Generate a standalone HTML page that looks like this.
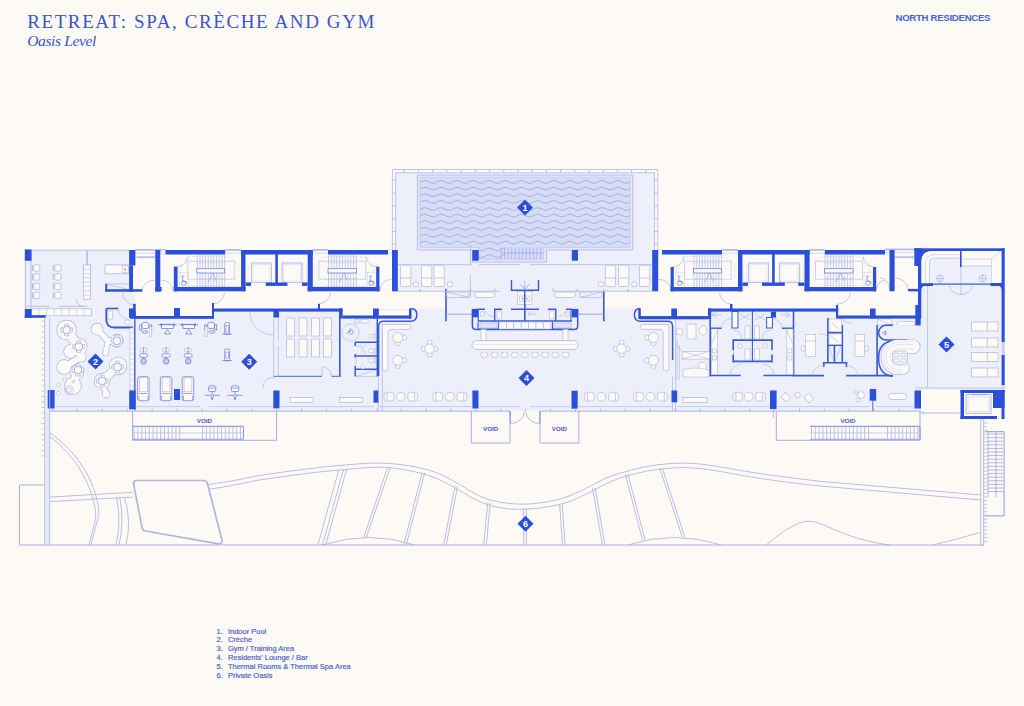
<!DOCTYPE html>
<html><head><meta charset="utf-8">
<style>
html,body{margin:0;padding:0;background:#fdfaf6;}
body{width:1024px;height:706px;overflow:hidden;position:relative;font-family:"Liberation Sans",sans-serif;}
svg{position:absolute;left:0;top:0;}
.w{fill:#2c4fd9;}
.lf{fill:#edf0fb;}
.cr{fill:#fdfaf6;}
.l{fill:none;stroke:#3a58d6;stroke-width:1.3;}
.t{fill:none;stroke:#a9b5e6;stroke-width:0.8;}
.g{fill:none;stroke:#b7c0e6;stroke-width:1;}
.fu{fill:#fdfaf6;stroke:#9eaae0;stroke-width:0.8;}
.ws{fill:#c9d0f0;}
.o{fill:none;stroke:#aab5e3;stroke-width:0.9;}
.dm{fill:#2c4fd9;}
.dt{fill:#fff;font:bold 9px "Liberation Sans",sans-serif;text-anchor:middle;}
.lg{fill:#4a62c8;stroke:#4a62c8;stroke-width:0.18px;font:7.5px "Liberation Sans",sans-serif;}
.vd{fill:#4a5ab8;font:bold 6.2px "Liberation Sans",sans-serif;text-anchor:middle;}
</style></head>
<body>
<svg width="1024" height="706" viewBox="0 0 1024 706">
<!-- ===== TITLES ===== -->
<text x="27.2" y="27.7" style="font:19px 'Liberation Serif',serif;fill:#3b55c6;letter-spacing:1.6px">RETREAT: SPA, CRÈCHE AND GYM</text>
<text x="27.2" y="46.3" style="font:italic 15.6px 'Liberation Serif',serif;fill:#3b55c6;letter-spacing:-0.4px">Oasis Level</text>
<text x="895.5" y="20.9" style="font:bold 9.6px 'Liberation Sans',sans-serif;fill:#4863cf;letter-spacing:-0.28px">NORTH RESIDENCES</text>

<!-- ===== LIGHT FILLS ===== -->
<g id="fills">
<rect class="lf" x="395.6" y="172.8" width="258.9" height="120"/>
<rect class="lf" x="25" y="250" width="104.5" height="66"/>
<rect class="lf" x="44.7" y="316" width="85.5" height="95"/><rect class="lf" x="129" y="291.5" width="6.4" height="17"/>
<rect class="lf" x="130" y="311" width="250" height="100"/>
<rect class="lf" x="378" y="291" width="300" height="120"/>
<rect class="lf" x="672" y="311" width="250" height="100"/>
<rect class="lf" x="921" y="251" width="81" height="140"/>
<!-- cream corridor / shafts within -->
<rect class="cr" x="135.4" y="291.3" width="310.6" height="17.2"/>
<rect class="cr" x="135.4" y="308" width="77.6" height="8"/>
<rect class="cr" x="342.6" y="311" width="70" height="5"/>
<rect class="cr" x="604" y="291.3" width="314" height="17.2"/>
<rect class="cr" x="640" y="308" width="68" height="8.5"/>
<rect class="cr" x="838" y="311" width="80" height="5"/>
<rect class="cr" x="921" y="390" width="40" height="23"/>
</g>

<!-- ===== POOL ===== -->
<g id="pool">
<path d="M392.4,250V169.5H657.8V250" fill="none" stroke="#b3bde6" stroke-width="0.9"/>
<path d="M395.6,250V172.8H654.5V250" fill="none" stroke="#b3bde6" stroke-width="0.9"/>
<path d="M404.4,169.5V172.8 M418.6,169.5V172.8 M432.8,169.5V172.8 M447.0,169.5V172.8 M461.2,169.5V172.8 M475.4,169.5V172.8 M489.6,169.5V172.8 M503.8,169.5V172.8 M518.0,169.5V172.8 M532.2,169.5V172.8 M546.4,169.5V172.8 M560.6,169.5V172.8 M574.8,169.5V172.8 M589.0,169.5V172.8 M603.2,169.5V172.8 M617.4,169.5V172.8 M631.6,169.5V172.8 M645.8,169.5V172.8 M392.4,180.3H395.6 M654.5,180.3H657.8 M392.4,193.1H395.6 M654.5,193.1H657.8 M392.4,205.9H395.6 M654.5,205.9H657.8 M392.4,218.7H395.6 M654.5,218.7H657.8 M392.4,231.5H395.6 M654.5,231.5H657.8 M392.4,244.3H395.6 M654.5,244.3H657.8" stroke="#a7b2e2" stroke-width="0.8"/>
<path d="M417.4,175H632.7V250H546.6V262.1H472.3V250H417.4Z" fill="#e4e8fa" stroke="#b0bae6" stroke-width="0.9"/>
<path d="M420.1,177.4H629.9V247.4H543.6V259.2H478.7V247.4H420.1Z" fill="#d7ddf6" stroke="#b4bde8" stroke-width="0.6"/>
<clipPath id="wc"><path d="M420.1,177.4H629.9V247.4H543.6V259.2H478.7V247.4H420.1Z"/></clipPath><path clip-path="url(#wc)" d="M416.95,183.25C419.88,183.25 422.07,180.55 425.00,180.55C427.93,180.55 430.12,183.25 433.05,183.25C435.98,183.25 438.17,180.55 441.10,180.55C444.03,180.55 446.22,183.25 449.15,183.25C452.08,183.25 454.27,180.55 457.20,180.55C460.13,180.55 462.32,183.25 465.25,183.25C468.18,183.25 470.37,180.55 473.30,180.55C476.23,180.55 478.42,183.25 481.35,183.25C484.28,183.25 486.47,180.55 489.40,180.55C492.33,180.55 494.52,183.25 497.45,183.25C500.38,183.25 502.57,180.55 505.50,180.55C508.43,180.55 510.62,183.25 513.55,183.25C516.48,183.25 518.67,180.55 521.60,180.55C524.53,180.55 526.72,183.25 529.65,183.25C532.58,183.25 534.77,180.55 537.70,180.55C540.63,180.55 542.82,183.25 545.75,183.25C548.68,183.25 550.87,180.55 553.80,180.55C556.73,180.55 558.92,183.25 561.85,183.25C564.78,183.25 566.97,180.55 569.90,180.55C572.83,180.55 575.02,183.25 577.95,183.25C580.88,183.25 583.07,180.55 586.00,180.55C588.93,180.55 591.12,183.25 594.05,183.25C596.98,183.25 599.17,180.55 602.10,180.55C605.03,180.55 607.22,183.25 610.15,183.25C613.08,183.25 615.27,180.55 618.20,180.55C621.13,180.55 623.32,183.25 626.25,183.25C629.18,183.25 631.37,180.55 634.30,180.55 M416.95,189.95C419.88,189.95 422.07,187.25 425.00,187.25C427.93,187.25 430.12,189.95 433.05,189.95C435.98,189.95 438.17,187.25 441.10,187.25C444.03,187.25 446.22,189.95 449.15,189.95C452.08,189.95 454.27,187.25 457.20,187.25C460.13,187.25 462.32,189.95 465.25,189.95C468.18,189.95 470.37,187.25 473.30,187.25C476.23,187.25 478.42,189.95 481.35,189.95C484.28,189.95 486.47,187.25 489.40,187.25C492.33,187.25 494.52,189.95 497.45,189.95C500.38,189.95 502.57,187.25 505.50,187.25C508.43,187.25 510.62,189.95 513.55,189.95C516.48,189.95 518.67,187.25 521.60,187.25C524.53,187.25 526.72,189.95 529.65,189.95C532.58,189.95 534.77,187.25 537.70,187.25C540.63,187.25 542.82,189.95 545.75,189.95C548.68,189.95 550.87,187.25 553.80,187.25C556.73,187.25 558.92,189.95 561.85,189.95C564.78,189.95 566.97,187.25 569.90,187.25C572.83,187.25 575.02,189.95 577.95,189.95C580.88,189.95 583.07,187.25 586.00,187.25C588.93,187.25 591.12,189.95 594.05,189.95C596.98,189.95 599.17,187.25 602.10,187.25C605.03,187.25 607.22,189.95 610.15,189.95C613.08,189.95 615.27,187.25 618.20,187.25C621.13,187.25 623.32,189.95 626.25,189.95C629.18,189.95 631.37,187.25 634.30,187.25 M416.95,196.55C419.88,196.55 422.07,193.85 425.00,193.85C427.93,193.85 430.12,196.55 433.05,196.55C435.98,196.55 438.17,193.85 441.10,193.85C444.03,193.85 446.22,196.55 449.15,196.55C452.08,196.55 454.27,193.85 457.20,193.85C460.13,193.85 462.32,196.55 465.25,196.55C468.18,196.55 470.37,193.85 473.30,193.85C476.23,193.85 478.42,196.55 481.35,196.55C484.28,196.55 486.47,193.85 489.40,193.85C492.33,193.85 494.52,196.55 497.45,196.55C500.38,196.55 502.57,193.85 505.50,193.85C508.43,193.85 510.62,196.55 513.55,196.55C516.48,196.55 518.67,193.85 521.60,193.85C524.53,193.85 526.72,196.55 529.65,196.55C532.58,196.55 534.77,193.85 537.70,193.85C540.63,193.85 542.82,196.55 545.75,196.55C548.68,196.55 550.87,193.85 553.80,193.85C556.73,193.85 558.92,196.55 561.85,196.55C564.78,196.55 566.97,193.85 569.90,193.85C572.83,193.85 575.02,196.55 577.95,196.55C580.88,196.55 583.07,193.85 586.00,193.85C588.93,193.85 591.12,196.55 594.05,196.55C596.98,196.55 599.17,193.85 602.10,193.85C605.03,193.85 607.22,196.55 610.15,196.55C613.08,196.55 615.27,193.85 618.20,193.85C621.13,193.85 623.32,196.55 626.25,196.55C629.18,196.55 631.37,193.85 634.30,193.85 M416.95,203.25C419.88,203.25 422.07,200.55 425.00,200.55C427.93,200.55 430.12,203.25 433.05,203.25C435.98,203.25 438.17,200.55 441.10,200.55C444.03,200.55 446.22,203.25 449.15,203.25C452.08,203.25 454.27,200.55 457.20,200.55C460.13,200.55 462.32,203.25 465.25,203.25C468.18,203.25 470.37,200.55 473.30,200.55C476.23,200.55 478.42,203.25 481.35,203.25C484.28,203.25 486.47,200.55 489.40,200.55C492.33,200.55 494.52,203.25 497.45,203.25C500.38,203.25 502.57,200.55 505.50,200.55C508.43,200.55 510.62,203.25 513.55,203.25C516.48,203.25 518.67,200.55 521.60,200.55C524.53,200.55 526.72,203.25 529.65,203.25C532.58,203.25 534.77,200.55 537.70,200.55C540.63,200.55 542.82,203.25 545.75,203.25C548.68,203.25 550.87,200.55 553.80,200.55C556.73,200.55 558.92,203.25 561.85,203.25C564.78,203.25 566.97,200.55 569.90,200.55C572.83,200.55 575.02,203.25 577.95,203.25C580.88,203.25 583.07,200.55 586.00,200.55C588.93,200.55 591.12,203.25 594.05,203.25C596.98,203.25 599.17,200.55 602.10,200.55C605.03,200.55 607.22,203.25 610.15,203.25C613.08,203.25 615.27,200.55 618.20,200.55C621.13,200.55 623.32,203.25 626.25,203.25C629.18,203.25 631.37,200.55 634.30,200.55 M416.95,210.35C419.88,210.35 422.07,207.65 425.00,207.65C427.93,207.65 430.12,210.35 433.05,210.35C435.98,210.35 438.17,207.65 441.10,207.65C444.03,207.65 446.22,210.35 449.15,210.35C452.08,210.35 454.27,207.65 457.20,207.65C460.13,207.65 462.32,210.35 465.25,210.35C468.18,210.35 470.37,207.65 473.30,207.65C476.23,207.65 478.42,210.35 481.35,210.35C484.28,210.35 486.47,207.65 489.40,207.65C492.33,207.65 494.52,210.35 497.45,210.35C500.38,210.35 502.57,207.65 505.50,207.65C508.43,207.65 510.62,210.35 513.55,210.35C516.48,210.35 518.67,207.65 521.60,207.65C524.53,207.65 526.72,210.35 529.65,210.35C532.58,210.35 534.77,207.65 537.70,207.65C540.63,207.65 542.82,210.35 545.75,210.35C548.68,210.35 550.87,207.65 553.80,207.65C556.73,207.65 558.92,210.35 561.85,210.35C564.78,210.35 566.97,207.65 569.90,207.65C572.83,207.65 575.02,210.35 577.95,210.35C580.88,210.35 583.07,207.65 586.00,207.65C588.93,207.65 591.12,210.35 594.05,210.35C596.98,210.35 599.17,207.65 602.10,207.65C605.03,207.65 607.22,210.35 610.15,210.35C613.08,210.35 615.27,207.65 618.20,207.65C621.13,207.65 623.32,210.35 626.25,210.35C629.18,210.35 631.37,207.65 634.30,207.65 M416.95,216.85C419.88,216.85 422.07,214.15 425.00,214.15C427.93,214.15 430.12,216.85 433.05,216.85C435.98,216.85 438.17,214.15 441.10,214.15C444.03,214.15 446.22,216.85 449.15,216.85C452.08,216.85 454.27,214.15 457.20,214.15C460.13,214.15 462.32,216.85 465.25,216.85C468.18,216.85 470.37,214.15 473.30,214.15C476.23,214.15 478.42,216.85 481.35,216.85C484.28,216.85 486.47,214.15 489.40,214.15C492.33,214.15 494.52,216.85 497.45,216.85C500.38,216.85 502.57,214.15 505.50,214.15C508.43,214.15 510.62,216.85 513.55,216.85C516.48,216.85 518.67,214.15 521.60,214.15C524.53,214.15 526.72,216.85 529.65,216.85C532.58,216.85 534.77,214.15 537.70,214.15C540.63,214.15 542.82,216.85 545.75,216.85C548.68,216.85 550.87,214.15 553.80,214.15C556.73,214.15 558.92,216.85 561.85,216.85C564.78,216.85 566.97,214.15 569.90,214.15C572.83,214.15 575.02,216.85 577.95,216.85C580.88,216.85 583.07,214.15 586.00,214.15C588.93,214.15 591.12,216.85 594.05,216.85C596.98,216.85 599.17,214.15 602.10,214.15C605.03,214.15 607.22,216.85 610.15,216.85C613.08,216.85 615.27,214.15 618.20,214.15C621.13,214.15 623.32,216.85 626.25,216.85C629.18,216.85 631.37,214.15 634.30,214.15 M416.95,223.45C419.88,223.45 422.07,220.75 425.00,220.75C427.93,220.75 430.12,223.45 433.05,223.45C435.98,223.45 438.17,220.75 441.10,220.75C444.03,220.75 446.22,223.45 449.15,223.45C452.08,223.45 454.27,220.75 457.20,220.75C460.13,220.75 462.32,223.45 465.25,223.45C468.18,223.45 470.37,220.75 473.30,220.75C476.23,220.75 478.42,223.45 481.35,223.45C484.28,223.45 486.47,220.75 489.40,220.75C492.33,220.75 494.52,223.45 497.45,223.45C500.38,223.45 502.57,220.75 505.50,220.75C508.43,220.75 510.62,223.45 513.55,223.45C516.48,223.45 518.67,220.75 521.60,220.75C524.53,220.75 526.72,223.45 529.65,223.45C532.58,223.45 534.77,220.75 537.70,220.75C540.63,220.75 542.82,223.45 545.75,223.45C548.68,223.45 550.87,220.75 553.80,220.75C556.73,220.75 558.92,223.45 561.85,223.45C564.78,223.45 566.97,220.75 569.90,220.75C572.83,220.75 575.02,223.45 577.95,223.45C580.88,223.45 583.07,220.75 586.00,220.75C588.93,220.75 591.12,223.45 594.05,223.45C596.98,223.45 599.17,220.75 602.10,220.75C605.03,220.75 607.22,223.45 610.15,223.45C613.08,223.45 615.27,220.75 618.20,220.75C621.13,220.75 623.32,223.45 626.25,223.45C629.18,223.45 631.37,220.75 634.30,220.75 M416.95,230.15C419.88,230.15 422.07,227.45 425.00,227.45C427.93,227.45 430.12,230.15 433.05,230.15C435.98,230.15 438.17,227.45 441.10,227.45C444.03,227.45 446.22,230.15 449.15,230.15C452.08,230.15 454.27,227.45 457.20,227.45C460.13,227.45 462.32,230.15 465.25,230.15C468.18,230.15 470.37,227.45 473.30,227.45C476.23,227.45 478.42,230.15 481.35,230.15C484.28,230.15 486.47,227.45 489.40,227.45C492.33,227.45 494.52,230.15 497.45,230.15C500.38,230.15 502.57,227.45 505.50,227.45C508.43,227.45 510.62,230.15 513.55,230.15C516.48,230.15 518.67,227.45 521.60,227.45C524.53,227.45 526.72,230.15 529.65,230.15C532.58,230.15 534.77,227.45 537.70,227.45C540.63,227.45 542.82,230.15 545.75,230.15C548.68,230.15 550.87,227.45 553.80,227.45C556.73,227.45 558.92,230.15 561.85,230.15C564.78,230.15 566.97,227.45 569.90,227.45C572.83,227.45 575.02,230.15 577.95,230.15C580.88,230.15 583.07,227.45 586.00,227.45C588.93,227.45 591.12,230.15 594.05,230.15C596.98,230.15 599.17,227.45 602.10,227.45C605.03,227.45 607.22,230.15 610.15,230.15C613.08,230.15 615.27,227.45 618.20,227.45C621.13,227.45 623.32,230.15 626.25,230.15C629.18,230.15 631.37,227.45 634.30,227.45 M416.95,237.25C419.88,237.25 422.07,234.55 425.00,234.55C427.93,234.55 430.12,237.25 433.05,237.25C435.98,237.25 438.17,234.55 441.10,234.55C444.03,234.55 446.22,237.25 449.15,237.25C452.08,237.25 454.27,234.55 457.20,234.55C460.13,234.55 462.32,237.25 465.25,237.25C468.18,237.25 470.37,234.55 473.30,234.55C476.23,234.55 478.42,237.25 481.35,237.25C484.28,237.25 486.47,234.55 489.40,234.55C492.33,234.55 494.52,237.25 497.45,237.25C500.38,237.25 502.57,234.55 505.50,234.55C508.43,234.55 510.62,237.25 513.55,237.25C516.48,237.25 518.67,234.55 521.60,234.55C524.53,234.55 526.72,237.25 529.65,237.25C532.58,237.25 534.77,234.55 537.70,234.55C540.63,234.55 542.82,237.25 545.75,237.25C548.68,237.25 550.87,234.55 553.80,234.55C556.73,234.55 558.92,237.25 561.85,237.25C564.78,237.25 566.97,234.55 569.90,234.55C572.83,234.55 575.02,237.25 577.95,237.25C580.88,237.25 583.07,234.55 586.00,234.55C588.93,234.55 591.12,237.25 594.05,237.25C596.98,237.25 599.17,234.55 602.10,234.55C605.03,234.55 607.22,237.25 610.15,237.25C613.08,237.25 615.27,234.55 618.20,234.55C621.13,234.55 623.32,237.25 626.25,237.25C629.18,237.25 631.37,234.55 634.30,234.55 M416.95,243.95C419.88,243.95 422.07,241.25 425.00,241.25C427.93,241.25 430.12,243.95 433.05,243.95C435.98,243.95 438.17,241.25 441.10,241.25C444.03,241.25 446.22,243.95 449.15,243.95C452.08,243.95 454.27,241.25 457.20,241.25C460.13,241.25 462.32,243.95 465.25,243.95C468.18,243.95 470.37,241.25 473.30,241.25C476.23,241.25 478.42,243.95 481.35,243.95C484.28,243.95 486.47,241.25 489.40,241.25C492.33,241.25 494.52,243.95 497.45,243.95C500.38,243.95 502.57,241.25 505.50,241.25C508.43,241.25 510.62,243.95 513.55,243.95C516.48,243.95 518.67,241.25 521.60,241.25C524.53,241.25 526.72,243.95 529.65,243.95C532.58,243.95 534.77,241.25 537.70,241.25C540.63,241.25 542.82,243.95 545.75,243.95C548.68,243.95 550.87,241.25 553.80,241.25C556.73,241.25 558.92,243.95 561.85,243.95C564.78,243.95 566.97,241.25 569.90,241.25C572.83,241.25 575.02,243.95 577.95,243.95C580.88,243.95 583.07,241.25 586.00,241.25C588.93,241.25 591.12,243.95 594.05,243.95C596.98,243.95 599.17,241.25 602.10,241.25C605.03,241.25 607.22,243.95 610.15,243.95C613.08,243.95 615.27,241.25 618.20,241.25C621.13,241.25 623.32,243.95 626.25,243.95C629.18,243.95 631.37,241.25 634.30,241.25 M473.30,248.05C476.23,248.05 478.42,250.75 481.35,250.75C484.28,250.75 486.47,248.05 489.40,248.05C492.33,248.05 494.52,250.75 497.45,250.75C500.38,250.75 502.57,248.05 505.50,248.05 M473.30,254.75C476.23,254.75 478.42,257.45 481.35,257.45C484.28,257.45 486.47,254.75 489.40,254.75C492.33,254.75 494.52,257.45 497.45,257.45C500.38,257.45 502.57,254.75 505.50,254.75" fill="none" stroke="#98a4dc" stroke-width="0.8"/>
<g stroke="#8d9de0" stroke-width="0.6" fill="none">
<path d="M501,247.4V259.2 M504.6,247.4V259.2 M508.2,247.4V259.2 M511.8,247.4V259.2 M515.4,247.4V259.2 M519,247.4V259.2 M522.6,247.4V259.2 M526.2,247.4V259.2 M529.8,247.4V259.2 M533.4,247.4V259.2 M537,247.4V259.2 M540.6,247.4V259.2 M501,253H543.6"/>
</g>
</g>


<!-- ===== CRECHE ===== -->
<g id="creche">
<rect x="33.7" y="264.9" width="6" height="6.3" rx="0.8" fill="#fdfaf6" stroke="#adb4de" stroke-width="0.7"/>
<path d="M32.6,264.9V271.2" stroke="#b9c2ea" stroke-width="1.2"/>
<rect x="33.7" y="273.8" width="6" height="6.3" rx="0.8" fill="#fdfaf6" stroke="#adb4de" stroke-width="0.7"/>
<path d="M32.6,273.8V280.1" stroke="#b9c2ea" stroke-width="1.2"/>
<rect x="33.7" y="283.3" width="6" height="6.3" rx="0.8" fill="#fdfaf6" stroke="#adb4de" stroke-width="0.7"/>
<path d="M32.6,283.3V289.6" stroke="#b9c2ea" stroke-width="1.2"/>
<rect x="33.7" y="292.3" width="6" height="6.3" rx="0.8" fill="#fdfaf6" stroke="#adb4de" stroke-width="0.7"/>
<path d="M32.6,292.3V298.6" stroke="#b9c2ea" stroke-width="1.2"/>
<rect x="54.8" y="264.9" width="6" height="6.3" rx="0.8" fill="#fdfaf6" stroke="#adb4de" stroke-width="0.7"/>
<path d="M53.300000000000004,264.9V271.2" stroke="#b9c2ea" stroke-width="1.2"/>
<rect x="54.8" y="273.8" width="6" height="6.3" rx="0.8" fill="#fdfaf6" stroke="#adb4de" stroke-width="0.7"/>
<path d="M53.300000000000004,273.8V280.1" stroke="#b9c2ea" stroke-width="1.2"/>
<rect x="54.8" y="283.3" width="6" height="6.3" rx="0.8" fill="#fdfaf6" stroke="#adb4de" stroke-width="0.7"/>
<path d="M53.300000000000004,283.3V289.6" stroke="#b9c2ea" stroke-width="1.2"/>
<rect x="54.8" y="292.3" width="6" height="6.3" rx="0.8" fill="#fdfaf6" stroke="#adb4de" stroke-width="0.7"/>
<path d="M53.300000000000004,292.3V298.6" stroke="#b9c2ea" stroke-width="1.2"/>
<rect x="83.7" y="264.9" width="6.8" height="34.4" fill="#fdfaf6" stroke="#adb4de" stroke-width="0.8"/>
<path d="M83.7,269.2H90.5 M83.7,273.5H90.5 M83.7,277.8H90.5 M83.7,282.1H90.5 M83.7,286.4H90.5 M83.7,290.7H90.5 M83.7,295.0H90.5" stroke="#c5cdef" stroke-width="0.9"/>
<path d="M87.1,250V264.9" stroke="#aab4e4" stroke-width="1.4"/>
<path d="M76.3,299.3 A7.4,7.4 0 0 0 83.7,306.6 M25,306.3H49.5 M58.4,306.3H87.7" stroke="#adb4de" stroke-width="0.8" fill="none"/>
<rect x="31.7" y="308.8" width="59.9" height="7" fill="#fdfaf6" stroke="#adb4de" stroke-width="0.7"/>
<path d="M39.2,308.8V315.8 M46.7,308.8V315.8 M54.2,308.8V315.8 M61.7,308.8V315.8 M69.2,308.8V315.8 M76.6,308.8V315.8 M84.1,308.8V315.8" stroke="#c5cdef" stroke-width="0.8"/>
<rect x="105" y="264.9" width="24" height="8.9" fill="#fdfaf6" stroke="#adb4de" stroke-width="0.8"/>
<rect x="122.2" y="265.8" width="6" height="7" fill="#fdfaf6" stroke="#adb4de" stroke-width="0.6"/><path d="M125,268V271" stroke="#5b70d2" stroke-width="0.8"/>
<path d="M107.2,284.5L129,289.6 M107.2,284H129" stroke="#adb4de" stroke-width="0.7" fill="none"/>
<path d="M122.5,292.2 A13,13 0 0 0 135.5,305" stroke="#adb4de" stroke-width="0.7" fill="none"/>
<path d="M106.3,308.5V319.5 Q106.3,327.5 114.3,327.5H133" stroke="#3a58d6" stroke-width="1.8" fill="none"/>
<path d="M106.3,308.5H118.3" stroke="#3a58d6" stroke-width="1.6" fill="none"/>
<rect x="108" y="311" width="4.5" height="8" fill="#fdfaf6" stroke="#adb4de" stroke-width="0.6"/>
<ellipse cx="127.5" cy="322.3" rx="3" ry="2.2" fill="#fdfaf6" stroke="#adb4de" stroke-width="0.6"/>
<path d="M118.3,308.5 A11,11 0 0 0 129.3,319.5" stroke="#adb4de" stroke-width="0.7" fill="none"/>
<rect x="130" y="328" width="4" height="62" fill="#fdfaf6" stroke="#adb4de" stroke-width="0.6"/>
<path d="M130,333.2H134 M130,338.4H134 M130,343.6H134 M130,348.8H134 M130,354.0H134 M130,359.2H134 M130,364.4H134 M130,369.6H134 M130,374.8H134 M130,380.0H134 M130,385.2H134" stroke="#c5cdef" stroke-width="0.6"/>
<path d="M135,311V410" stroke="#3a58d6" stroke-width="1.6"/>
<circle cx="66.6" cy="330" r="10.2" fill="#adb4de"/>
<circle cx="78.7" cy="346.6" r="8.899999999999999" fill="#adb4de"/>
<circle cx="70.5" cy="351.5" r="7.2" fill="#adb4de"/>
<path d="M66.6,330L78.7,346.6" stroke="#adb4de" stroke-width="10.4" stroke-linecap="round"/>
<path d="M78.7,346.6L70.5,351.5" stroke="#adb4de" stroke-width="8.4" stroke-linecap="round"/>
<circle cx="97" cy="329" r="6.2" fill="#adb4de"/>
<path d="M97,329L108,341" stroke="#adb4de" stroke-width="6.9" stroke-linecap="round"/>
<circle cx="116.9" cy="340.8" r="6.7" fill="#adb4de"/>
<path d="M108,341L116.9,340.8" stroke="#adb4de" stroke-width="7.4" stroke-linecap="round"/>
<path d="M108,341L105.5,353" stroke="#adb4de" stroke-width="5.9" stroke-linecap="round"/>
<circle cx="105.5" cy="353" r="3.3" fill="#adb4de"/>
<circle cx="81" cy="357" r="5.5" fill="#adb4de"/>
<circle cx="64" cy="367" r="7.7" fill="#adb4de"/>
<circle cx="77" cy="372" r="7.2" fill="#adb4de"/>
<path d="M81,357L66,366" stroke="#adb4de" stroke-width="7.4" stroke-linecap="round"/>
<circle cx="73" cy="386" r="8.7" fill="#adb4de"/>
<path d="M77,372L73,386" stroke="#adb4de" stroke-width="9.4" stroke-linecap="round"/>
<circle cx="118" cy="366" r="9.2" fill="#adb4de"/>
<circle cx="102.2" cy="381" r="8.2" fill="#adb4de"/>
<path d="M118,366L102.2,381" stroke="#adb4de" stroke-width="8.9" stroke-linecap="round"/>
<circle cx="106" cy="394" r="4.2" fill="#adb4de"/>
<path d="M102.2,381L106,394" stroke="#adb4de" stroke-width="5.4" stroke-linecap="round"/>
<circle cx="66.6" cy="330" r="9.5" fill="#fdfaf6"/>
<circle cx="78.7" cy="346.6" r="8.2" fill="#fdfaf6"/>
<circle cx="70.5" cy="351.5" r="6.5" fill="#fdfaf6"/>
<path d="M66.6,330L78.7,346.6" stroke="#fdfaf6" stroke-width="9" stroke-linecap="round"/>
<path d="M78.7,346.6L70.5,351.5" stroke="#fdfaf6" stroke-width="7" stroke-linecap="round"/>
<circle cx="97" cy="329" r="5.5" fill="#fdfaf6"/>
<path d="M97,329L108,341" stroke="#fdfaf6" stroke-width="5.5" stroke-linecap="round"/>
<circle cx="116.9" cy="340.8" r="6" fill="#fdfaf6"/>
<path d="M108,341L116.9,340.8" stroke="#fdfaf6" stroke-width="6" stroke-linecap="round"/>
<path d="M108,341L105.5,353" stroke="#fdfaf6" stroke-width="4.5" stroke-linecap="round"/>
<circle cx="105.5" cy="353" r="2.6" fill="#fdfaf6"/>
<circle cx="81" cy="357" r="4.8" fill="#fdfaf6"/>
<circle cx="64" cy="367" r="7" fill="#fdfaf6"/>
<circle cx="77" cy="372" r="6.5" fill="#fdfaf6"/>
<path d="M81,357L66,366" stroke="#fdfaf6" stroke-width="6" stroke-linecap="round"/>
<circle cx="73" cy="386" r="8" fill="#fdfaf6"/>
<path d="M77,372L73,386" stroke="#fdfaf6" stroke-width="8" stroke-linecap="round"/>
<circle cx="118" cy="366" r="8.5" fill="#fdfaf6"/>
<circle cx="102.2" cy="381" r="7.5" fill="#fdfaf6"/>
<path d="M118,366L102.2,381" stroke="#fdfaf6" stroke-width="7.5" stroke-linecap="round"/>
<circle cx="106" cy="394" r="3.5" fill="#fdfaf6"/>
<path d="M102.2,381L106,394" stroke="#fdfaf6" stroke-width="4" stroke-linecap="round"/>
<circle cx="64.6" cy="379.5" r="1.9" fill="#fdfaf6" stroke="#adb4de" stroke-width="0.6"/>
<circle cx="58.5" cy="385" r="1.9" fill="#fdfaf6" stroke="#adb4de" stroke-width="0.6"/>
<circle cx="58.5" cy="393" r="1.9" fill="#fdfaf6" stroke="#adb4de" stroke-width="0.6"/>
<circle cx="69" cy="390" r="2.3" fill="none" stroke="#adb4de" stroke-width="0.6"/><circle cx="69" cy="390" r="4.4" fill="none" stroke="#adb4de" stroke-width="0.6"/>
<path d="M72,381 L75,380.5 L73.5,383.5Z" fill="none" stroke="#adb4de" stroke-width="0.6"/>
<rect x="64.39999999999999" y="324.2" width="4.4" height="2.4" rx="0.6" fill="#fdfaf6" stroke="#8d9cde" stroke-width="0.6"/><rect x="64.39999999999999" y="333.40000000000003" width="4.4" height="2.4" rx="0.6" fill="#fdfaf6" stroke="#8d9cde" stroke-width="0.6"/><rect x="60.79999999999999" y="327.8" width="2.4" height="4.4" rx="0.6" fill="#fdfaf6" stroke="#8d9cde" stroke-width="0.6"/><rect x="69.99999999999999" y="327.8" width="2.4" height="4.4" rx="0.6" fill="#fdfaf6" stroke="#8d9cde" stroke-width="0.6"/><circle cx="66.6" cy="330" r="3.8" fill="#fdfaf6" stroke="#8d9cde" stroke-width="0.7"/>
<rect x="76.5" y="340.8" width="4.4" height="2.4" rx="0.6" fill="#fdfaf6" stroke="#8d9cde" stroke-width="0.6"/><rect x="76.5" y="350.00000000000006" width="4.4" height="2.4" rx="0.6" fill="#fdfaf6" stroke="#8d9cde" stroke-width="0.6"/><rect x="72.9" y="344.40000000000003" width="2.4" height="4.4" rx="0.6" fill="#fdfaf6" stroke="#8d9cde" stroke-width="0.6"/><rect x="82.1" y="344.40000000000003" width="2.4" height="4.4" rx="0.6" fill="#fdfaf6" stroke="#8d9cde" stroke-width="0.6"/><circle cx="78.7" cy="346.6" r="3.8" fill="#fdfaf6" stroke="#8d9cde" stroke-width="0.7"/>
<rect x="114.7" y="335.0" width="4.4" height="2.4" rx="0.6" fill="#fdfaf6" stroke="#8d9cde" stroke-width="0.6"/><rect x="114.7" y="344.20000000000005" width="4.4" height="2.4" rx="0.6" fill="#fdfaf6" stroke="#8d9cde" stroke-width="0.6"/><rect x="111.10000000000001" y="338.6" width="2.4" height="4.4" rx="0.6" fill="#fdfaf6" stroke="#8d9cde" stroke-width="0.6"/><rect x="120.3" y="338.6" width="2.4" height="4.4" rx="0.6" fill="#fdfaf6" stroke="#8d9cde" stroke-width="0.6"/><circle cx="116.9" cy="340.8" r="3.8" fill="#fdfaf6" stroke="#8d9cde" stroke-width="0.7"/>
<rect x="75.8" y="364.3" width="4.4" height="2.4" rx="0.6" fill="#fdfaf6" stroke="#8d9cde" stroke-width="0.6"/><rect x="75.8" y="373.50000000000006" width="4.4" height="2.4" rx="0.6" fill="#fdfaf6" stroke="#8d9cde" stroke-width="0.6"/><rect x="72.2" y="367.90000000000003" width="2.4" height="4.4" rx="0.6" fill="#fdfaf6" stroke="#8d9cde" stroke-width="0.6"/><rect x="81.39999999999999" y="367.90000000000003" width="2.4" height="4.4" rx="0.6" fill="#fdfaf6" stroke="#8d9cde" stroke-width="0.6"/><circle cx="78" cy="370.1" r="3.8" fill="#fdfaf6" stroke="#8d9cde" stroke-width="0.7"/>
<rect x="115.3" y="361.2" width="4.4" height="2.4" rx="0.6" fill="#fdfaf6" stroke="#8d9cde" stroke-width="0.6"/><rect x="115.3" y="370.40000000000003" width="4.4" height="2.4" rx="0.6" fill="#fdfaf6" stroke="#8d9cde" stroke-width="0.6"/><rect x="111.7" y="364.8" width="2.4" height="4.4" rx="0.6" fill="#fdfaf6" stroke="#8d9cde" stroke-width="0.6"/><rect x="120.89999999999999" y="364.8" width="2.4" height="4.4" rx="0.6" fill="#fdfaf6" stroke="#8d9cde" stroke-width="0.6"/><circle cx="117.5" cy="367" r="3.8" fill="#fdfaf6" stroke="#8d9cde" stroke-width="0.7"/>
<rect x="100.0" y="375.2" width="4.4" height="2.4" rx="0.6" fill="#fdfaf6" stroke="#8d9cde" stroke-width="0.6"/><rect x="100.0" y="384.40000000000003" width="4.4" height="2.4" rx="0.6" fill="#fdfaf6" stroke="#8d9cde" stroke-width="0.6"/><rect x="96.4" y="378.8" width="2.4" height="4.4" rx="0.6" fill="#fdfaf6" stroke="#8d9cde" stroke-width="0.6"/><rect x="105.6" y="378.8" width="2.4" height="4.4" rx="0.6" fill="#fdfaf6" stroke="#8d9cde" stroke-width="0.6"/><circle cx="102.2" cy="381" r="3.8" fill="#fdfaf6" stroke="#8d9cde" stroke-width="0.7"/>
</g>

<!-- ===== CORES ===== -->
<g id="cores">
<rect x="180.6" y="256.5" width="57.5" height="29" rx="13" fill="none" stroke="#c3cbee" stroke-width="0.7" stroke-dasharray="1.2,1.6"/><rect x="187.8" y="261.2" width="46.39999999999998" height="18" fill="none" stroke="#c0c8ec" stroke-width="0.8"/><path d="M197.3,254.6V286.8 M200.0,254.6V286.8 M202.8,254.6V286.8 M205.5,254.6V286.8 M208.3,254.6V286.8 M211.0,254.6V286.8 M213.7,254.6V286.8 M216.5,254.6V286.8 M219.2,254.6V286.8 M222.0,254.6V286.8 M224.7,254.6V286.8" stroke="#b6bfe7" stroke-width="0.8"/><path d="M197.3,263H224.7 M197.3,278.5H224.7" stroke="#c3cbee" stroke-width="0.5"/><rect x="196.8" y="268.7" width="27.899999999999977" height="4.3" fill="#fdfaf6" stroke="#6f83d8" stroke-width="0.8"/><path d="M213.0,273 L208.0,282 M213.0,273L216.0,281" stroke="#8e9de0" stroke-width="0.6" fill="none"/><g stroke="#6f83d8" stroke-width="0.7" fill="none"><circle cx="183.6" cy="283" r="2.2"/><path d="M182.6,277.5V281.5H186.1L187.1,284"/><circle cx="182.9" cy="276.5" r="0.7"/></g><rect x="179.6" y="272.5" width="9" height="13" fill="none" stroke="#c6cdee" stroke-width="0.5"/>
<rect x="315.8" y="256.5" width="57.39999999999998" height="29" rx="13" fill="none" stroke="#c3cbee" stroke-width="0.7" stroke-dasharray="1.2,1.6"/><rect x="319.0" y="261.2" width="46.80000000000001" height="18" fill="none" stroke="#c0c8ec" stroke-width="0.8"/><path d="M328.5,254.6V286.8 M331.3,254.6V286.8 M334.1,254.6V286.8 M336.8,254.6V286.8 M339.6,254.6V286.8 M342.4,254.6V286.8 M345.2,254.6V286.8 M348.0,254.6V286.8 M350.7,254.6V286.8 M353.5,254.6V286.8 M356.3,254.6V286.8" stroke="#b6bfe7" stroke-width="0.8"/><path d="M328.5,263H356.3 M328.5,278.5H356.3" stroke="#c3cbee" stroke-width="0.5"/><rect x="328.0" y="268.7" width="28.30000000000001" height="4.3" fill="#fdfaf6" stroke="#6f83d8" stroke-width="0.8"/><path d="M344.4,273 L339.4,282 M344.4,273L347.4,281" stroke="#8e9de0" stroke-width="0.6" fill="none"/><g stroke="#6f83d8" stroke-width="0.7" fill="none"><circle cx="371.2" cy="283" r="2.2"/><path d="M370.2,277.5V281.5H373.7L374.7,284"/><circle cx="370.5" cy="276.5" r="0.7"/></g><rect x="367.2" y="272.5" width="9" height="13" fill="none" stroke="#c6cdee" stroke-width="0.5"/>
<rect x="676.8" y="256.5" width="58.200000000000045" height="29" rx="13" fill="none" stroke="#c3cbee" stroke-width="0.7" stroke-dasharray="1.2,1.6"/><rect x="684.5" y="261.2" width="46.60000000000002" height="18" fill="none" stroke="#c0c8ec" stroke-width="0.8"/><path d="M694.0,254.6V286.8 M696.8,254.6V286.8 M699.5,254.6V286.8 M702.3,254.6V286.8 M705.0,254.6V286.8 M707.8,254.6V286.8 M710.6,254.6V286.8 M713.3,254.6V286.8 M716.1,254.6V286.8 M718.8,254.6V286.8 M721.6,254.6V286.8" stroke="#b6bfe7" stroke-width="0.8"/><path d="M694,263H721.6 M694,278.5H721.6" stroke="#c3cbee" stroke-width="0.5"/><rect x="693.5" y="268.7" width="28.100000000000023" height="4.3" fill="#fdfaf6" stroke="#6f83d8" stroke-width="0.8"/><path d="M709.8,273 L704.8,282 M709.8,273L712.8,281" stroke="#8e9de0" stroke-width="0.6" fill="none"/><g stroke="#6f83d8" stroke-width="0.7" fill="none"><circle cx="679.8" cy="283" r="2.2"/><path d="M678.8,277.5V281.5H682.3L683.3,284"/><circle cx="679.0999999999999" cy="276.5" r="0.7"/></g><rect x="675.8" y="272.5" width="9" height="13" fill="none" stroke="#c6cdee" stroke-width="0.5"/>
<rect x="812.6" y="256.5" width="57.39999999999998" height="29" rx="13" fill="none" stroke="#c3cbee" stroke-width="0.7" stroke-dasharray="1.2,1.6"/><rect x="815.5" y="261.2" width="47" height="18" fill="none" stroke="#c0c8ec" stroke-width="0.8"/><path d="M825.0,254.6V286.8 M827.8,254.6V286.8 M830.6,254.6V286.8 M833.4,254.6V286.8 M836.2,254.6V286.8 M839.0,254.6V286.8 M841.8,254.6V286.8 M844.6,254.6V286.8 M847.4,254.6V286.8 M850.2,254.6V286.8 M853.0,254.6V286.8" stroke="#b6bfe7" stroke-width="0.8"/><path d="M825,263H853 M825,278.5H853" stroke="#c3cbee" stroke-width="0.5"/><rect x="824.5" y="268.7" width="28.5" height="4.3" fill="#fdfaf6" stroke="#6f83d8" stroke-width="0.8"/><path d="M841.0,273 L836.0,282 M841.0,273L844.0,281" stroke="#8e9de0" stroke-width="0.6" fill="none"/><g stroke="#6f83d8" stroke-width="0.7" fill="none"><circle cx="868" cy="283" r="2.2"/><path d="M867,277.5V281.5H870.5L871.5,284"/><circle cx="867.3" cy="276.5" r="0.7"/></g><rect x="864" y="272.5" width="9" height="13" fill="none" stroke="#c6cdee" stroke-width="0.5"/>
<g fill="none" stroke="#adb4de" stroke-width="0.7">
<path d="M177.6,266.5A10,10 0 0 0 187.6,256.5 M376.2,266.5A10,10 0 0 1 366.2,256.5 M673.8,266.5A10,10 0 0 0 683.8,256.5 M873,266.5A10,10 0 0 1 863,256.5"/>
<path d="M142,291.3A13.4,11 0 0 1 155.4,280 M161.1,280A12,11 0 0 1 173,291.3"/>
<path d="M224.5,292.3A11.5,11.5 0 0 1 213,303.8 M330.4,292.6A12,11.2 0 0 1 318.4,303.8 M719.6,292.6A11.8,11.4 0 0 0 731.4,304 M850.2,292.6A13,11.6 0 0 1 837.2,304.2"/>
<path d="M380,290.7A11.4,11.4 0 0 1 391.4,279.3 M658.6,279.3A12,10 0 0 1 670.6,289.3 M885,280.5A8,8 0 0 0 877,288.8 M880,278A9.5,11.5 0 0 1 889.5,289.5 M894.6,278A13.4,11.5 0 0 1 908,289.5"/>
</g>
<rect x="135.4" y="249" width="30.099999999999994" height="1.8" fill="#b4bde8"/>
<path d="M135.4,253.2H165.5" stroke="#c9d0f0" stroke-width="0.8"/>
<rect x="225.2" y="249" width="15.800000000000011" height="1.8" fill="#b4bde8"/>
<path d="M225.2,253.2H241" stroke="#c9d0f0" stroke-width="0.8"/>
<rect x="312.8" y="249" width="15.199999999999989" height="1.8" fill="#b4bde8"/>
<path d="M312.8,253.2H328" stroke="#c9d0f0" stroke-width="0.8"/>
<rect x="722" y="249" width="16" height="1.8" fill="#b4bde8"/>
<path d="M722,253.2H738" stroke="#c9d0f0" stroke-width="0.8"/>
<rect x="809.6" y="249" width="15.199999999999932" height="1.8" fill="#b4bde8"/>
<path d="M809.6,253.2H824.8" stroke="#c9d0f0" stroke-width="0.8"/>
<rect x="885" y="248.5" width="29.299999999999955" height="1.8" fill="#b4bde8"/>
<path d="M885,252.7H914.3" stroke="#c9d0f0" stroke-width="0.8"/>
<path d="M136.5,257.2H155" stroke="#b5bee8" stroke-width="1.8"/>
<path d="M895,257.2H914" stroke="#b5bee8" stroke-width="1.8"/>
<rect x="251.5" y="263" width="20.0" height="19.5" fill="none" stroke="#b9c2ea" stroke-width="1.1"/>
<rect x="253.0" y="264.5" width="17.0" height="16.5" fill="none" stroke="#d0d6f2" stroke-width="0.5"/>
<rect x="282" y="263" width="20" height="19.5" fill="none" stroke="#b9c2ea" stroke-width="1.1"/>
<rect x="283.5" y="264.5" width="17" height="16.5" fill="none" stroke="#d0d6f2" stroke-width="0.5"/>
<rect x="748.5" y="263" width="20.0" height="19.5" fill="none" stroke="#b9c2ea" stroke-width="1.1"/>
<rect x="750.0" y="264.5" width="17.0" height="16.5" fill="none" stroke="#d0d6f2" stroke-width="0.5"/>
<rect x="779.5" y="263" width="20.0" height="19.5" fill="none" stroke="#b9c2ea" stroke-width="1.1"/>
<rect x="781.0" y="264.5" width="17.0" height="16.5" fill="none" stroke="#d0d6f2" stroke-width="0.5"/>
<path d="M245.5,282.5H251.5 M302,282.5H307.7" stroke="#b9c2ea" stroke-width="0.6"/>
<rect x="302.7" y="264" width="3.5" height="16" fill="none" stroke="#c6cdee" stroke-width="0.6" stroke-dasharray="1,1"/>
<rect x="244.7" y="264" width="3.5" height="16" fill="none" stroke="#c6cdee" stroke-width="0.6" stroke-dasharray="1,1"/>
<rect x="800.0" y="264" width="3.5" height="16" fill="none" stroke="#c6cdee" stroke-width="0.6" stroke-dasharray="1,1"/>
<rect x="743.0" y="264" width="3.5" height="16" fill="none" stroke="#c6cdee" stroke-width="0.6" stroke-dasharray="1,1"/>
<rect x="161.1" y="250" width="4" height="4" fill="#fdfaf6" stroke="#c6cdee" stroke-width="0.5"/>
<rect x="388" y="249.4" width="4" height="4" fill="#fdfaf6" stroke="#c6cdee" stroke-width="0.5"/>
<rect x="658.2" y="250" width="4" height="4" fill="#fdfaf6" stroke="#c6cdee" stroke-width="0.5"/>
</g>

<!-- ===== GYM ===== -->
<g id="gym">
<g stroke="#5b72d8" stroke-width="0.7" fill="#fdfaf6">
<rect x="141.8" y="322.5" width="7" height="6" rx="2"/><rect x="139.8" y="325" width="2" height="5"/><rect x="149.8" y="325" width="2" height="5"/><rect x="149.3" y="327" width="2.2" height="9.5" stroke="#b3bde8"/><ellipse cx="144.8" cy="332" rx="3" ry="1.2"/>
<rect x="207.7" y="322.5" width="7" height="6" rx="2"/><rect x="204.7" y="325" width="2" height="5"/><rect x="214.7" y="325" width="2" height="5"/><rect x="205.0" y="327" width="2.2" height="9.5" stroke="#b3bde8"/><ellipse cx="211.7" cy="332" rx="3" ry="1.2"/>
<rect x="161.7" y="324.3" width="11.6" height="4.2"/><path d="M158.3,324.7H176.7" fill="none"/><path d="M161.0,323.2V326.2 M174.0,323.2V326.2" fill="none" stroke-width="1"/><path d="M167.5,329.5L170.5,334H164.5Z"/>
<rect x="182.89999999999998" y="324.3" width="11.6" height="4.2"/><path d="M179.5,324.7H197.89999999999998" fill="none"/><path d="M182.2,323.2V326.2 M195.2,323.2V326.2" fill="none" stroke-width="1"/><path d="M188.7,329.5L191.7,334H185.7Z"/>
<rect x="224.7" y="322.5" width="4.8" height="12" rx="1.5"/><rect x="225.9" y="325.5" width="2.4" height="6.5" stroke-width="0.5"/><path d="M222.3,334.0H232" fill="none"/>
<rect x="224.7" y="349" width="4.8" height="12" rx="1.5"/><rect x="225.9" y="352" width="2.4" height="6.5" stroke-width="0.5"/><path d="M222.3,360.5H232" fill="none"/>
<ellipse cx="143.6" cy="350" rx="3.8" ry="2.2" stroke="#a3afe4"/><path d="M143.6,347.3V352.5" fill="none"/><rect x="139.6" y="353.8" width="8" height="3.5" rx="1.5"/><circle cx="143.6" cy="361.3" r="2.8" fill="#c3ccf2"/><path d="M143.6,357.3V358.5" fill="none"/>
<ellipse cx="166.1" cy="350" rx="3.8" ry="2.2" stroke="#a3afe4"/><path d="M166.1,347.3V352.5" fill="none"/><rect x="162.1" y="353.8" width="8" height="3.5" rx="1.5"/><circle cx="166.1" cy="361.3" r="2.8" fill="#c3ccf2"/><path d="M166.1,357.3V358.5" fill="none"/>
<ellipse cx="188.2" cy="350" rx="3.8" ry="2.2" stroke="#a3afe4"/><path d="M188.2,347.3V352.5" fill="none"/><rect x="184.2" y="353.8" width="8" height="3.5" rx="1.5"/><circle cx="188.2" cy="361.3" r="2.8" fill="#c3ccf2"/><path d="M188.2,357.3V358.5" fill="none"/>
<rect x="137.6" y="376.7" width="11.5" height="24" rx="2"/><rect x="139.4" y="377.8" width="7.9" height="14" stroke="#a3afe4" stroke-width="0.6"/><path d="M138.6,393.5H148.1 M138.9,396V400 M147.79999999999998,396V400" fill="none" stroke-width="0.6"/>
<rect x="160.3" y="376.7" width="11.5" height="24" rx="2"/><rect x="162.10000000000002" y="377.8" width="7.9" height="14" stroke="#a3afe4" stroke-width="0.6"/><path d="M161.3,393.5H170.8 M161.60000000000002,396V400 M170.5,396V400" fill="none" stroke-width="0.6"/>
<rect x="182.2" y="376.7" width="11.5" height="24" rx="2"/><rect x="184.0" y="377.8" width="7.9" height="14" stroke="#a3afe4" stroke-width="0.6"/><path d="M183.2,393.5H192.7 M183.5,396V400 M192.39999999999998,396V400" fill="none" stroke-width="0.6"/>
<ellipse cx="212.2" cy="387.8" rx="4" ry="2.3"/><rect x="208.7" y="388" width="7" height="3.5" rx="1" /><path d="M204.7,395.3H219.7 M212.2,391.5V399" fill="none"/><path d="M210.89999999999998,395.3L212.2,400L213.5,395.3" />
<ellipse cx="235" cy="387.8" rx="4" ry="2.3"/><rect x="231.5" y="388" width="7" height="3.5" rx="1" /><path d="M227.5,395.3H242.5 M235,391.5V399" fill="none"/><path d="M233.7,395.3L235,400L236.3,395.3" />
</g>
<g fill="none" stroke="#adb4de" stroke-width="0.7">
<path d="M249.8,311.6A23.5,23.5 0 0 0 273.3,335.1 M262.7,388A10.6,10.6 0 0 1 273.3,377.4"/>
<path d="M273.7,318V378.5 M278.3,318V340 M278.3,346V376.6"/>
<path d="M135.5,316V411"/>
</g>
</g>

<!-- ===== LOCKERS ===== -->
<g id="lockers">
<g fill="#fdfaf6" stroke="#adb4de" stroke-width="0.7">
<rect x="286.5" y="318" width="8" height="18"/>
<rect x="286.5" y="339" width="8" height="18"/>
<rect x="299" y="318" width="8" height="18"/>
<rect x="299" y="339" width="8" height="18"/>
<rect x="311.5" y="318" width="8" height="18"/>
<rect x="311.5" y="339" width="8" height="18"/>
<rect x="323.5" y="318" width="8" height="18"/>
<rect x="323.5" y="339" width="8" height="18"/>
</g>
<path d="M339.8,311V376.4 M277.3,318V376 M322,376.4 V367 A10,9.5 0 0 1 332.3,376.4" stroke="#3a58d6" stroke-width="0.0" fill="none"/>
<path d="M339.8,308.5V376.6" stroke="#3a58d6" stroke-width="1.6" fill="none"/>
<path d="M273.7,376.3H322 M331.5,376.3H341" stroke="#6d82da" stroke-width="1.2" fill="none"/>

<path d="M322,375.9V367.2 M322,366.8 A9.5,9.5 0 0 1 331.5,375.9" stroke="#adb4de" stroke-width="0.7" fill="none"/>
<g stroke="#3a58d6" stroke-width="1.5" fill="none">
<path d="M377.3,318.5V376.6 M355.2,342.2H377 M355.2,356H377 M355.2,369.2H377 M355.2,342V346 M355.2,354V357.5 M355.2,366V376.6"/>
</g>
<g stroke="#adb4de" stroke-width="0.6" fill="#fdfaf6">
<circle cx="350.5" cy="332.5" r="8.5" fill="none"/>
<rect x="361" y="319.5" width="7" height="3.5"/><rect x="355" y="319.5" width="4" height="3.5" fill="none"/>
<ellipse cx="371.3" cy="336" rx="2.6" ry="2"/><rect x="374" y="333.7" width="1.8" height="4.6"/>
<ellipse cx="371.3" cy="351" rx="2.6" ry="2"/><rect x="374" y="348.7" width="1.8" height="4.6"/>
<ellipse cx="371.3" cy="360.5" rx="2.6" ry="2"/><rect x="374" y="358.2" width="1.8" height="4.6"/>
<path d="M356,376.4L376.5,370 M356,376.4H377" fill="none"/>
<path d="M355.5,346 A10,10 0 0 1 365.5,356 M355.5,357.5 A11,11 0 0 1 355.5,366" fill="none"/>
<circle cx="363" cy="345" r="2"/><circle cx="363" cy="367" r="2"/>
</g>
<path d="M349,332 l3,-2 l1.5,3 l-2.5,1.5z M347,334 l4,-6" stroke="#6d82da" stroke-width="0.7" fill="none"/>
<rect x="290" y="397.5" width="23" height="5" fill="#fdfaf6" stroke="#adb4de" stroke-width="0.7"/>
<rect x="339.5" y="397.5" width="23.0" height="5" fill="#fdfaf6" stroke="#adb4de" stroke-width="0.7"/>
<rect x="683" y="397.5" width="24" height="5" fill="#fdfaf6" stroke="#adb4de" stroke-width="0.7"/>
</g>

<!-- ===== LOUNGE ===== -->
<g id="lounge">
<path d="M378.6,376V326.3Q378.6,321.3 383.6,321.3H410.5Q416.8,321.3 416.8,315 Q416.8,308.5 411,308.5" stroke="#3a58d6" stroke-width="1.5" fill="none"/>
<path d="M672.6,360V326.3Q672.6,321.3 667.6,321.3H640.7Q634.4,321.3 634.4,315 Q634.4,308.5 640.2,308.5" stroke="#3a58d6" stroke-width="1.5" fill="none"/>
<path d="M382.3,324.5H408.3Q411,324.5 411,327 Q411,329.4 408.3,329.4H391Q388,329.4 388,332.4V368Q388,371 385.1,371 Q382.3,371 382.3,368Z" fill="#fdfaf6" stroke="#adb4de" stroke-width="0.7"/>
<path d="M668.9,324.5H642.9Q640.2,324.5 640.2,327 Q640.2,329.4 642.9,329.4H660.2Q663.2,329.4 663.2,332.4V368Q663.2,371 666.1,371 Q668.9,371 668.9,368Z" fill="#fdfaf6" stroke="#adb4de" stroke-width="0.7"/>
<path d="M378.3,376V411 M382.4,330V411 M672.5,376V411 M675.6,320V411" stroke="#adb4de" stroke-width="0.7" fill="none"/>
<circle cx="404.1" cy="337.6" r="2.6" fill="#fdfaf6" stroke="#adb4de" stroke-width="0.7"/><circle cx="397.8" cy="343.20000000000005" r="2.6" fill="#fdfaf6" stroke="#adb4de" stroke-width="0.7"/><circle cx="397.8" cy="337.6" r="5" fill="#fdfaf6" stroke="#adb4de" stroke-width="0.7"/>
<circle cx="647.1" cy="337.6" r="2.6" fill="#fdfaf6" stroke="#adb4de" stroke-width="0.7"/><circle cx="653.4" cy="343.20000000000005" r="2.6" fill="#fdfaf6" stroke="#adb4de" stroke-width="0.7"/><circle cx="653.4" cy="337.6" r="5" fill="#fdfaf6" stroke="#adb4de" stroke-width="0.7"/>
<circle cx="404.1" cy="360.4" r="2.6" fill="#fdfaf6" stroke="#adb4de" stroke-width="0.7"/><circle cx="397.8" cy="366.0" r="2.6" fill="#fdfaf6" stroke="#adb4de" stroke-width="0.7"/><circle cx="397.8" cy="360.4" r="5" fill="#fdfaf6" stroke="#adb4de" stroke-width="0.7"/>
<circle cx="647.1" cy="360.4" r="2.6" fill="#fdfaf6" stroke="#adb4de" stroke-width="0.7"/><circle cx="653.4" cy="366.0" r="2.6" fill="#fdfaf6" stroke="#adb4de" stroke-width="0.7"/><circle cx="653.4" cy="360.4" r="5" fill="#fdfaf6" stroke="#adb4de" stroke-width="0.7"/>
<circle cx="429.6" cy="342.9" r="2.5" fill="#fdfaf6" stroke="#adb4de" stroke-width="0.7"/><circle cx="429.6" cy="354.5" r="2.5" fill="#fdfaf6" stroke="#adb4de" stroke-width="0.7"/><circle cx="423.8" cy="348.7" r="2.5" fill="#fdfaf6" stroke="#adb4de" stroke-width="0.7"/><circle cx="435.40000000000003" cy="348.7" r="2.5" fill="#fdfaf6" stroke="#adb4de" stroke-width="0.7"/><circle cx="429.6" cy="348.7" r="4.8" fill="#fdfaf6" stroke="#adb4de" stroke-width="0.7"/>
<circle cx="621.6" cy="342.9" r="2.5" fill="#fdfaf6" stroke="#adb4de" stroke-width="0.7"/><circle cx="621.6" cy="354.5" r="2.5" fill="#fdfaf6" stroke="#adb4de" stroke-width="0.7"/><circle cx="615.8000000000001" cy="348.7" r="2.5" fill="#fdfaf6" stroke="#adb4de" stroke-width="0.7"/><circle cx="627.4" cy="348.7" r="2.5" fill="#fdfaf6" stroke="#adb4de" stroke-width="0.7"/><circle cx="621.6" cy="348.7" r="4.8" fill="#fdfaf6" stroke="#adb4de" stroke-width="0.7"/>
<rect x="384" y="392.3" width="9.8" height="8.8" rx="3" fill="#fdfaf6" stroke="#adb4de" stroke-width="0.7"/><path d="M387,392.8V400.6" stroke="#adb4de" stroke-width="0.7"/><circle cx="400.7" cy="396.7" r="4.4" fill="#fdfaf6" stroke="#adb4de" stroke-width="0.7"/><rect x="407.8" y="392.3" width="9.8" height="8.8" rx="3" fill="#fdfaf6" stroke="#adb4de" stroke-width="0.7"/><path d="M414.6,392.8V400.6" stroke="#adb4de" stroke-width="0.7"/>
<rect x="633.6" y="392.3" width="9.8" height="8.8" rx="3" fill="#fdfaf6" stroke="#adb4de" stroke-width="0.7"/><path d="M636.6,392.8V400.6" stroke="#adb4de" stroke-width="0.7"/><circle cx="650.5" cy="396.7" r="4.4" fill="#fdfaf6" stroke="#adb4de" stroke-width="0.7"/><rect x="657.4000000000001" y="392.3" width="9.8" height="8.8" rx="3" fill="#fdfaf6" stroke="#adb4de" stroke-width="0.7"/><path d="M664.2,392.8V400.6" stroke="#adb4de" stroke-width="0.7"/>
<rect x="432.8" y="392.3" width="9.8" height="8.8" rx="3" fill="#fdfaf6" stroke="#adb4de" stroke-width="0.7"/><path d="M435.8,392.8V400.6" stroke="#adb4de" stroke-width="0.7"/><circle cx="449.8" cy="396.7" r="4.4" fill="#fdfaf6" stroke="#adb4de" stroke-width="0.7"/><rect x="457" y="392.3" width="9.8" height="8.8" rx="3" fill="#fdfaf6" stroke="#adb4de" stroke-width="0.7"/><path d="M463.8,392.8V400.6" stroke="#adb4de" stroke-width="0.7"/>
<rect x="584.4000000000001" y="392.3" width="9.8" height="8.8" rx="3" fill="#fdfaf6" stroke="#adb4de" stroke-width="0.7"/><path d="M587.4000000000001,392.8V400.6" stroke="#adb4de" stroke-width="0.7"/><circle cx="601.4000000000001" cy="396.7" r="4.4" fill="#fdfaf6" stroke="#adb4de" stroke-width="0.7"/><rect x="608.6" y="392.3" width="9.8" height="8.8" rx="3" fill="#fdfaf6" stroke="#adb4de" stroke-width="0.7"/><path d="M615.4,392.8V400.6" stroke="#adb4de" stroke-width="0.7"/>
<rect x="732.9" y="392.3" width="9.8" height="8.8" rx="3" fill="#fdfaf6" stroke="#adb4de" stroke-width="0.7"/><path d="M735.9,392.8V400.6" stroke="#adb4de" stroke-width="0.7"/><circle cx="748.7" cy="396.7" r="4.4" fill="#fdfaf6" stroke="#adb4de" stroke-width="0.7"/><rect x="755.5" y="392.3" width="9.8" height="8.8" rx="3" fill="#fdfaf6" stroke="#adb4de" stroke-width="0.7"/><path d="M762.3,392.8V400.6" stroke="#adb4de" stroke-width="0.7"/>
<path d="M472.4,309V326 Q472.4,329.5 476,329.5 H574.2 Q577.7,329.5 577.7,326 V309" stroke="#3a58d6" stroke-width="1.5" fill="none"/>
<path d="M478,321H572 M478,309.3H485 M494,309.3H502 M511,309.3H539 M548,309.3H556 M566,309.3H572 M524.7,291V321 M494.7,309V321 M555.8,309V321 M511.5,280V291 M538.5,280V291 M511.5,290.3H538.5" stroke="#3a58d6" stroke-width="1.4" fill="none"/>
<path d="M478,322V329 H498.5V322 M552.5,322V329H572 M478.3,309V321 M571,309V321" stroke="#3a58d6" stroke-width="1.1" fill="none"/>
<g fill="#fdfaf6" stroke="#adb4de" stroke-width="0.6">
<rect x="499.0" y="322" width="7.4" height="7"/>
<rect x="506.4" y="322" width="7.4" height="7"/>
<rect x="513.8" y="322" width="7.4" height="7"/>
<rect x="521.2" y="322" width="7.4" height="7"/>
<rect x="528.6" y="322" width="7.4" height="7"/>
<rect x="536.0" y="322" width="7.4" height="7"/>
<rect x="543.4" y="322" width="7.4" height="7"/>
<rect x="480" y="323" width="17" height="5" fill="#dfe4f8"/><rect x="554" y="323" width="17" height="5" fill="#dfe4f8"/>
<rect x="480.8" y="312" width="3.5" height="4"/><rect x="566" y="312" width="3.5" height="4"/>
<rect x="497" y="311" width="4.5" height="8"/><rect x="549.5" y="311" width="4.5" height="8"/>
<rect x="517.5" y="291.5" width="14.4" height="13" fill="#fdfaf6"/><rect x="519.5" y="296" width="10.4" height="5" fill="none"/><path d="M524.7,290V321" stroke="#3a58d6" stroke-width="1.4"/><path d="M522,298.5h5.4 M522,298.5l1.5,-1.3 M522,298.5l1.5,1.3 M527.4,298.5l-1.5,-1.3 M527.4,298.5l-1.5,1.3" stroke="#6d82da" stroke-width="0.5"/>
<path d="M485,311 Q490,318 494,316 M556,316 Q561,318 566,311 M528,314H537 M528,314l3,-2 M528,314l3,2" fill="none"/>
</g>
<path d="M524.7,280.5V289 M521,285l3.7,4l3.7,-4 M519.5,283.5l5.2,5.5 M530,283.5l-5.3,5.5" stroke="#8d9cde" stroke-width="0.6" fill="none"/>
<rect x="481" y="329.5" width="5" height="11.5" fill="#fdfaf6" stroke="#adb4de" stroke-width="0.7"/><rect x="563" y="329.5" width="5" height="11.5" fill="#fdfaf6" stroke="#adb4de" stroke-width="0.7"/>
<rect x="472" y="340.6" width="106" height="8.9" rx="4.4" fill="#fdfaf6" stroke="#adb4de" stroke-width="0.8"/>
<path d="M474,344.5H576" stroke="#d3d9f3" stroke-width="0.6"/>
<ellipse cx="484.3" cy="354.8" rx="3.5" ry="2.8" fill="#fdfaf6" stroke="#adb4de" stroke-width="0.7"/>
<ellipse cx="494.5" cy="354.8" rx="3.5" ry="2.8" fill="#fdfaf6" stroke="#adb4de" stroke-width="0.7"/>
<ellipse cx="504.6" cy="354.8" rx="3.5" ry="2.8" fill="#fdfaf6" stroke="#adb4de" stroke-width="0.7"/>
<ellipse cx="514.8" cy="354.8" rx="3.5" ry="2.8" fill="#fdfaf6" stroke="#adb4de" stroke-width="0.7"/>
<ellipse cx="524.9" cy="354.8" rx="3.5" ry="2.8" fill="#fdfaf6" stroke="#adb4de" stroke-width="0.7"/>
<ellipse cx="535.1" cy="354.8" rx="3.5" ry="2.8" fill="#fdfaf6" stroke="#adb4de" stroke-width="0.7"/>
<ellipse cx="545.2" cy="354.8" rx="3.5" ry="2.8" fill="#fdfaf6" stroke="#adb4de" stroke-width="0.7"/>
<ellipse cx="555.4" cy="354.8" rx="3.5" ry="2.8" fill="#fdfaf6" stroke="#adb4de" stroke-width="0.7"/>
<ellipse cx="565.5" cy="354.8" rx="3.5" ry="2.8" fill="#fdfaf6" stroke="#adb4de" stroke-width="0.7"/>
<path d="M446,288.8V321.2 M603.8,291V321.2" stroke="#3a58d6" stroke-width="1.6"/>
<path d="M446,314.2H472.4 M577.7,314.2H603.8" stroke="#8d9cde" stroke-width="0.9"/>
<g fill="#fdfaf6" stroke="#adb4de" stroke-width="0.7">
<rect x="400.5" y="265.2" width="10.3" height="21.3" rx="1"/><path d="M400.5,278H410.8" fill="none"/>
<rect x="421.5" y="265.2" width="10.3" height="21.3" rx="1"/><path d="M421.5,278H431.8" fill="none"/>
<rect x="434" y="265.2" width="10.3" height="21.3" rx="1"/><path d="M434,278H444.3" fill="none"/>
<rect x="605.3" y="265.2" width="10.3" height="21.3" rx="1"/><path d="M605.3,278H615.5999999999999" fill="none"/>
<rect x="618.5" y="265.2" width="10.3" height="21.3" rx="1"/><path d="M618.5,278H628.8" fill="none"/><rect x="639.5" y="265.2" width="10.3" height="21.3" rx="1"/><path d="M639.5,278H649.8" fill="none"/>
<rect x="413.5" y="282" width="4.8" height="4.5" rx="0.8"/>
<rect x="447.5" y="282" width="4.8" height="4.5" rx="0.8"/>
<rect x="598.5" y="282" width="4.8" height="4.5" rx="0.8"/>
<rect x="632" y="282" width="4.8" height="4.5" rx="0.8"/>
<rect x="474.6" y="292" width="20.3" height="5.5" rx="2.7"/><rect x="554.6" y="292" width="20.9" height="5.5" rx="2.7"/>
<path d="M580,292H602V297.5H580Z M580,297.5L602,292" fill="none"/>
<path d="M446.5,292H469V297.5H446.5Z M446.5,292L469,297.5" fill="none"/>
</g>
<path d="M398,264.7H470.4 M479,264.7H520 M530,264.7H652 M398,291.3H500 M553,291.3H652 M470.4,245V266 M470.4,275V297" stroke="#b4bde8" stroke-width="0.9" fill="none"/>
<path d="M420,291.3V289 M470.4,291.3V288.5 M495,291.3V289 M553,291.3V288.5 M577,291.3V289 M604,291.3V289 M628,291.3V289" stroke="#8d9cde" stroke-width="0.7"/>
<path d="M446,300.5V288 " stroke="none"/>
</g>

<!-- ===== SPA ===== -->
<g id="spa">
<g stroke="#3a58d6" stroke-width="1.6" fill="none">
<path d="M710.2,311V376.5 M709.2,375.5H740.8 M763.4,375.5H794 M793.5,311V376.5"/>
<path d="M732.4,340.1H772.8 M732.4,361.4H772.8 M733.2,339.2V350 M733.2,354.6V362.4 M772,339.2V350 M772,354.6V362.4"/>
<path d="M711,328.2H721.5 M782,328.2H793"/>
<path d="M827.9,318V362 M842.3,325V362 M827,332.7H843 M827,345.3H843 M822.8,362.7H847.4 M823.8,362V367 M846.4,362V367 M834.4,346V362"/>
<path d="M794,375.6H824 M846,375.6H893 M877.1,325V376.5"/>
</g>
<path d="M752.4,311V362" stroke="#3a58d6" stroke-width="1.1"/>
<g fill="#fdfaf6" stroke="#3a58d6" stroke-width="1">
<rect x="732" y="311.5" width="6" height="16.5"/><rect x="766.6" y="317.5" width="5.8" height="10.5"/>
</g>
<g fill="#fdfaf6" stroke="#adb4de" stroke-width="0.6">
<rect x="711.3" y="329" width="6.3" height="45.5"/><rect x="786.8" y="329" width="6.3" height="45.5"/>
<rect x="712.5" y="349" width="4" height="4"/><rect x="712.5" y="356" width="4" height="4"/><rect x="787.9" y="349" width="4" height="4"/><rect x="787.9" y="356" width="4" height="4"/>
<rect x="745" y="326" width="5" height="13"/><rect x="754.5" y="326" width="5" height="13"/><rect x="745" y="349" width="5" height="11"/><rect x="754.5" y="349" width="5" height="11"/>
<rect x="738" y="344" width="4" height="4"/><rect x="763" y="344" width="4" height="4"/>
<path d="M721.5,328.2A10,10 0 0 1 731.8,318.5 M782,328.2A10,10 0 0 0 772.4,318.5 M733.2,350A5,5 0 0 1 733.2,354.6 M742,339A9,9 0 0 0 733.5,330 M762,339A9,9 0 0 1 771.5,330 M729.8,375.5A11,11 0 0 1 740.8,364.5 M774.4,375.5A11,11 0 0 0 763.4,364.5 M740.8,364.5V360 M763.4,364.5V360" fill="none"/>
<path d="M712,315l5,-3 M712,315l5,3 M712,315H722 M790,315l-5,-3 M790,315l-5,3 M790,315H780 M740,320l10,-6 M740,314l10,6 M755,314l10,6 M755,320l10,-6 M717.6,330L711,345 M786.8,330L793,345" fill="none"/>
<rect x="676.5" y="329" width="6" height="5.5"/><rect x="687" y="324" width="9" height="15"/><ellipse cx="703" cy="330.5" rx="4" ry="4.6"/>
<rect x="682.2" y="351.4" width="27" height="7.7"/><path d="M682.2,351.4L709,359 M682.2,359L709,351.4" fill="none"/>
<rect x="699" y="362.5" width="7" height="7" rx="1.5"/><path d="M683,370 Q695,366 709,370 V377 H683Z"/>
<path d="M677,340V380 M679.4,345V380 M676,343 Q680,350 682,351.4" fill="none"/>
<rect x="805.7" y="334.4" width="9.6" height="21.9"/><rect x="801.5" y="346" width="3.5" height="5"/><path d="M805.7,341H815.3" fill="none"/>
<rect x="855" y="334.4" width="9.6" height="21.9"/><rect x="865" y="346" width="3.5" height="5"/><path d="M855,341H864.6" fill="none"/>
<rect x="829" y="319" width="12.5" height="12.7"/><rect x="829" y="334" width="12.5" height="10.5"/>
<path d="M831,322l8,7 M831,336l8,7 M812,375.6A12,10 0 0 1 824,365.6 M858,375.6A12,10 0 0 0 846,365.6 M829,338.5A10,8 0 0 0 819,334 M841.5,318.5A11,10 0 0 0 852,323 M829,346L834,362 M841,346L835,362" fill="none"/>
<rect x="877.5" y="319" width="14" height="6" /><path d="M877.5,319L891.5,325" fill="none"/>
<rect x="897" y="321.5" width="18" height="4" rx="1.5"/>
</g>
<path d="M893,325.3H912 V340 H886 A7.3,7.3 0 0 1 886,325.3" fill="#edf0fb" stroke="none"/>
<path d="M893,325.3H886 A7.3,7.3 0 0 0 886,340 H907" stroke="#3a58d6" stroke-width="1.5" fill="none"/>
<path d="M882.5,333 l3,-2 v4 z M886,331.5 v3" stroke="#6d82da" stroke-width="0.6" fill="none"/>
<path d="M893,341 Q878.6,342 878.6,358 Q878.6,375 893,376.3" stroke="#3a58d6" stroke-width="1.5" fill="none"/>
<path d="M913.3,346.6 H898.5 A10.6,10.6 0 0 0 898.5,367.8 H902.5" stroke="#adb4de" stroke-width="14.4" fill="none" stroke-linecap="round"/>
<path d="M913.3,346.6 H898.5 A10.6,10.6 0 0 0 898.5,367.8 H902.5" stroke="#fdfaf6" stroke-width="13" fill="none" stroke-linecap="round"/>
<path d="M913.3,342.1 H898.5 A15.1,15.1 0 0 0 898.5,372.3 H902.5 M913.3,344.6 H898.5 A12.6,12.6 0 0 0 898.5,369.8 H902.5 M913.3,349.1 H898.5 A8.1,8.1 0 0 0 898.5,365.3 H902.5" stroke="#cdd4f1" stroke-width="0.6" fill="none"/>
<rect x="892.5" y="351" width="15" height="13.5" rx="3" fill="#edf0fb" stroke="#adb4de" stroke-width="0.6"/>
<ellipse cx="896" cy="355" rx="2.8" ry="1.7" fill="#fdfaf6" stroke="#adb4de" stroke-width="0.6"/>
<ellipse cx="903.5" cy="355" rx="2.8" ry="1.7" fill="#fdfaf6" stroke="#adb4de" stroke-width="0.6"/>
<ellipse cx="896" cy="360.5" rx="2.8" ry="1.7" fill="#fdfaf6" stroke="#adb4de" stroke-width="0.6"/>
<ellipse cx="903.5" cy="360.5" rx="2.8" ry="1.7" fill="#fdfaf6" stroke="#adb4de" stroke-width="0.6"/>
<path d="M921,290 Q921,285 926,285 H997 Q1002,285 1002,290" fill="none" stroke="#3a58d6" stroke-width="0"/>
<rect x="921" y="250" width="81" height="35" fill="#fdfaf6"/>
<path d="M921,250 H961 V284 H921Z" fill="#fdfaf6"/>
<path d="M929.4,284 V262 Q929.4,258.1 933.4,258.1 H961 V284Z" fill="#edf0fb"/>
<path d="M962,266 H991.5 V284 H962Z" fill="#edf0fb"/>
<path d="M925.5,284 V264 Q925.5,254.5 935,254.5 H960.5 M962,259H991.5 L1001,250.5 M991.5,259V284" stroke="#cdd4f1" stroke-width="0.9" fill="none"/>
<path d="M929.4,284 V262 Q929.4,258.1 933.4,258.1 H960.5 M962,266H991.5" stroke="#c2cbee" stroke-width="1" fill="none"/>
<path d="M921,251 V262 Q921,251 932,251 Z" class="w"/>
<path d="M921,250.5 H933 Q921,250.5 921,262.5Z" fill="#2c4fd9"/>
<path d="M960.8,250V267.3" stroke="#2c4fd9" stroke-width="1.6"/><path d="M961,267V284" stroke="#adb4de" stroke-width="0.8"/>
<path d="M929,284.1H991.5" stroke="#3a58d6" stroke-width="1.1"/>
<path d="M921,283.2H933V286H921Z M990.5,283H1002V286H990.5Z" fill="#2c4fd9"/>
<circle cx="940" cy="278.5" r="3.3" fill="none" stroke="#adb4de" stroke-width="0.7"/><path d="M935.5,278.5H944.5 M940,274V283" stroke="#adb4de" stroke-width="0.7"/>
<circle cx="982.7" cy="278.5" r="3.3" fill="none" stroke="#adb4de" stroke-width="0.7"/><path d="M978.2,278.5H987.2 M982.7,274V283" stroke="#adb4de" stroke-width="0.7"/>
<path d="M949.5,285.5A11.5,9 0 0 0 961,294.5 M972.5,285.5A11.5,9 0 0 1 961,294.5 M961,285V294.5" stroke="#adb4de" stroke-width="0.7" fill="none"/>
<path d="M921,285.5 H926.5 Q921,285.5 921,291Z" fill="#2c4fd9"/>
<path d="M1002,285.5 H996.5 Q1002,285.5 1002,291Z" fill="#2c4fd9"/>
<path d="M927.6,286V388 M915,388H1002" stroke="#adb4de" stroke-width="0.7" fill="none"/>
<rect x="971.5" y="322" width="26.5" height="9" fill="#fdfaf6" stroke="#adb4de" stroke-width="0.7"/><path d="M987.3,322V331" stroke="#adb4de" stroke-width="0.7"/>
<rect x="971.5" y="338" width="26.5" height="9" fill="#fdfaf6" stroke="#adb4de" stroke-width="0.7"/><path d="M987.3,338V347" stroke="#adb4de" stroke-width="0.7"/>
<rect x="971.5" y="352.5" width="26.5" height="9" fill="#fdfaf6" stroke="#adb4de" stroke-width="0.7"/><path d="M987.3,352.5V361.5" stroke="#adb4de" stroke-width="0.7"/>
<rect x="971.5" y="368" width="26.5" height="9" fill="#fdfaf6" stroke="#adb4de" stroke-width="0.7"/><path d="M987.3,368V377" stroke="#adb4de" stroke-width="0.7"/>
<rect x="1001.6" y="342" width="3.1" height="13" fill="#c9d0f0"/><rect x="1001.6" y="385" width="3.1" height="5" fill="#c9d0f0"/>
<rect x="966" y="394.5" width="25" height="19" fill="#fdfaf6" stroke="#adb4de" stroke-width="0.9"/><rect x="968" y="397" width="21" height="14.5" fill="none" stroke="#c6cdee" stroke-width="0.7"/>
<path d="M972,394.5H988" stroke="#8d9cde" stroke-width="1.3" stroke-dasharray="1,0.8"/>
<path d="M921,413H961 M923,411V414" stroke="#b4bde8" stroke-width="1" fill="none"/>
<g fill="#fdfaf6" stroke="#adb4de" stroke-width="0.7"><path d="M781,397l4.5,-4.5 l5.5,5 l-4.5,4.5z M786,393.5 l-2,-2"/><circle cx="797.5" cy="395" r="2.8"/><path d="M804,397.5l4.5,-4.5 l5,5.5 l-4.5,4.5z"/></g>
<g fill="#fdfaf6" stroke="#adb4de" stroke-width="0.7"><circle cx="861" cy="395" r="3.5"/><circle cx="856" cy="392" r="1.8"/><circle cx="858" cy="400" r="2"/><rect x="888.5" y="393.5" width="18" height="6" rx="3"/></g>
<path d="M872.8,400.7V411" stroke="#3a58d6" stroke-width="0.9"/><path d="M773.3,409V418" stroke="#adb4de" stroke-width="0.9"/>
</g>
<!-- ===== WALLS ===== -->
<g class="w">
<rect x="24.8" y="249.4" width="6.8" height="11.4"/>
<rect x="129.1" y="250" width="6.3" height="15.5"/>
<rect x="129.1" y="265.5" width="3.9" height="26.1"/>
<rect x="105.3" y="289.2" width="36.9" height="2.5"/><rect x="155.3" y="287" width="6.3" height="4.5"/>
<rect x="105.3" y="283.7" width="1.9" height="7.9"/>
<rect x="155.3" y="250" width="5" height="41.5"/>
<rect x="165.5" y="250" width="59.7" height="4.5"/>
<rect x="241" y="250" width="71.8" height="4.5"/>
<rect x="173.8" y="266.6" width="3.8" height="24.7"/>
<rect x="173.8" y="286.9" width="71.7" height="4.4"/>
<rect x="241.1" y="250" width="4.4" height="41.3"/>
<rect x="275.3" y="254" width="2.6" height="29"/>
<rect x="265.8" y="282.5" width="21.6" height="3.4"/>
<rect x="302" y="282.5" width="5.7" height="3.4"/>
<rect x="245.5" y="282.5" width="5.5" height="3.4"/>
<rect x="307.7" y="250" width="5.1" height="41.3"/>
<rect x="328" y="250" width="60" height="4.5"/>
<rect x="307.7" y="286.9" width="71.7" height="4.4"/>
<rect x="376.2" y="266.6" width="3.2" height="24.7"/>
<rect x="392" y="250" width="5.8" height="41.3"/>
<rect x="472.3" y="250" width="6.4" height="10.7"/>
<rect x="571.8" y="250" width="6.2" height="10.7"/>
<rect x="652.2" y="250" width="6.0" height="41.3"/>
<rect x="662" y="250" width="60" height="4.5"/>
<rect x="738" y="250" width="71.6" height="4.5"/>
<rect x="824.8" y="250" width="60.2" height="4.5"/>
<rect x="670.6" y="267" width="3.2" height="24.3"/>
<rect x="670.6" y="287" width="71.8" height="4.3"/>
<rect x="738" y="250" width="4.4" height="41.3"/>
<rect x="772.1" y="254" width="2.6" height="29"/>
<rect x="762" y="282.5" width="22.8" height="3.4"/>
<rect x="798.2" y="282.5" width="6.3" height="3.4"/>
<rect x="742.4" y="282.5" width="5.6" height="3.4"/>
<rect x="804.5" y="250" width="5.1" height="41.3"/>
<rect x="804.5" y="287" width="71.7" height="4.3"/>
<rect x="873" y="267" width="3.2" height="24.3"/>
<rect x="889.5" y="250" width="5.1" height="41.3"/>
<rect x="908" y="288.9" width="10" height="2.5"/>
<rect x="914.3" y="248.3" width="7.0" height="17.7"/>
<rect x="918" y="266" width="3.3" height="52.6"/>
<rect x="914.3" y="248.3" width="90.1" height="2.7"/>
<rect x="1001.6" y="248.3" width="3.1" height="93.7"/>
<rect x="1001.6" y="355" width="3.1" height="30"/>
<rect x="24.8" y="309" width="6.8" height="8.8"/>
<rect x="24.8" y="315.2" width="20.9" height="2.6"/>
<rect x="129" y="308.4" width="6.7" height="9.2"/><rect x="133.2" y="303.8" width="2.5" height="5"/>
<rect x="130" y="316" width="83" height="2.8"/>
<rect x="174" y="308" width="6" height="8"/>
<rect x="212" y="303" width="2" height="15.8"/>
<rect x="213" y="308.5" width="129.6" height="3.1"/>
<rect x="318" y="304" width="2" height="7"/>
<rect x="340" y="308.5" width="2.6" height="10.1"/>
<rect x="342.6" y="315.5" width="68.4" height="3.1"/>
<rect x="409" y="308.5" width="2.5" height="10.1"/>
<rect x="373" y="308.5" width="5.8" height="10.1"/>
<rect x="273.4" y="311" width="5.7" height="6.5"/>
<rect x="638.3" y="308.5" width="2.5" height="10.5"/>
<rect x="640" y="316.1" width="68" height="3.2"/>
<rect x="671.3" y="308.5" width="5.7" height="10.5"/>
<rect x="708" y="308.5" width="3.2" height="10.5"/>
<rect x="708" y="308.5" width="130.2" height="3.1"/>
<rect x="730" y="304" width="2.5" height="7"/>
<rect x="836" y="305" width="2.2" height="13.6"/>
<rect x="838.2" y="315.5" width="79.8" height="3.1"/>
<rect x="870" y="308.5" width="5.6" height="10.1"/>
<rect x="770.9" y="311.6" width="5.1" height="5.9"/>
<rect x="915.3" y="305" width="5.4" height="20.4"/>
<rect x="47.7" y="390" width="6.9" height="18.5"/>
<rect x="129.2" y="390.5" width="6.5" height="18.8"/>
<rect x="273.3" y="390.5" width="6.2" height="17.9"/>
<rect x="373.5" y="390.5" width="4.8" height="12.2"/>
<rect x="472.4" y="390.5" width="6.1" height="18.0"/>
<rect x="571.5" y="390.7" width="6.2" height="18.0"/>
<rect x="671.5" y="390.5" width="5.7" height="11.8"/>
<rect x="770" y="390.5" width="6.6" height="18.5"/>
<rect x="869.7" y="389" width="6.5" height="11.7"/>
<rect x="914.5" y="390.5" width="6.5" height="18.0"/>
<rect x="960.5" y="390" width="3.5" height="29"/>
<rect x="960.5" y="416" width="36.5" height="3"/>
<rect x="993" y="390" width="11.5" height="18"/>
<rect x="1001.5" y="390" width="3.0" height="29"/>
<rect x="960.5" y="390" width="44.0" height="3"/>
<rect x="174" y="389" width="6" height="11"/>
<rect x="472.4" y="308.9" width="5.6" height="8.5"/>
<rect x="571.9" y="308.9" width="5.8" height="8.5"/>
</g>


<!-- ===== OASIS ===== -->
<g id="oasis">
<path d="M208,484.5 C230,482 250,477 262.5,475 C290,471 320,467 340,465.5 C355,464 370,463 380,463.1 C400,463.5 420,467 434.4,471.9 C448,477 462,486 475,493.8 C485,499 494,502 510,503.5 C525,505 540,504 562.5,498.4 C575,494 585,489 593.8,484.4 C605,478 615,474 625,471.9 C640,467 660,463.5 681.3,463.1 C700,463 715,466 734.4,469.4 C760,474 800,479 820,481.3 L980.8,495" stroke="#b4bae2" stroke-width="0.95" fill="none"/>
<path d="M208,489.3 C230,486.5 250,481.5 262.5,479.5 C290,475.5 320,471.5 340,470 C355,468.5 370,467.2 380,467.2 C398,467.5 418,472 432,476.6 C448,483 460,491 473,498.4 C484,504 494,507.5 510,509 C525,510 545,508.5 565,503 C577,499 587,494 596,489 C607,483 617,478.5 627,476 C642,471.5 660,468 681.3,467.6 C700,467.5 715,470.5 734.4,474 C760,479 800,484 820,486 L980.8,500" stroke="#b4bae2" stroke-width="0.95" fill="none"/>
<path d="M49.4,497.1L132.8,492.3 M49.4,501.6L132.8,497.1" stroke="#b4bae2" stroke-width="0.95" fill="none"/>
<path d="M49.7,432.7 C70,447 90,470 97,500 Q100,512 98,518 L90.8,545 M49.7,436.6 C68,450 87,473 94,503 Q97,515 95,521 L93.6,527 L89,545" stroke="#b4bae2" stroke-width="0.95" fill="none"/>
<path d="M136.4,480.5 H203.4 Q206.6,480.5 207.5,483.5 L221.8,539.5 Q223,544.5 218.5,543.8 L145.5,531 Q142.5,530.5 142,527.5 L133.6,484 Q133.2,480.5 136.4,480.5Z" stroke="#afb5dc" stroke-width="1.7" fill="none"/>
<path d="M116.5,497.5 Q121.5,522 116,545 M119.8,497.3 Q124.5,522 119,545 M124.2,497 Q132,520 126,545" stroke="#b4bae2" stroke-width="0.95" fill="none"/>
<path d="M338.75,470L317.9,545 M343.4,469.5L322.5,545 M346.6,469.3L325.7,545 M387.7,467.2L363.7,537.5 M390.3,467.2L366.3,537.5 M422.1,472.5L403.7,545 M424.7,472.5L406.3,545 M455.0,486L443.7,545 M457.6,486L446.3,545 M487.7,503L483.7,545 M490.3,503L486.3,545 M523.7,508.5L523.7,545 M526.3,508.5L526.3,545 M559.7,504.7L562.5,545 M562.3,504.7L565.0,545 M592.5,488L602.5,545 M595.1,488L605.0,545 M625.3,474L642.5,540 M627.9,474L645.0,540 M659.7,468L682.5,537.5 M662.3,468L685.0,537.5 " stroke="#b4bae2" stroke-width="0.95" fill="none"/>

<path d="M322.5,545 Q368.75,530 415,545 M627.5,545 Q675,530 721.25,545 M766,545 C785,530 800,518 815,522 C830,526 850,540 890,545 M932.5,545 Q955,540 980,532.5" stroke="#b4bae2" stroke-width="0.95" fill="none"/>
</g>
<!-- ===== OUTLINES ===== -->
<g id="outl">
<path d="M49.7,411.2H510 M540,411.2H921" stroke="#a9b2de" stroke-width="1" fill="none"/>
<path d="M54.6,406.6H129.2 M135.7,406.6H200 M209,406.6H273.3 M279.5,406.6H373.5 M378.3,406.6H472.4 M478.5,406.6H520 M530,406.6H571.5 M577.7,406.6H671.5 M677.2,406.6H770 M776.6,406.6H869.7 M876.2,406.6H914.5" stroke="#c3cbee" stroke-width="1" fill="none"/>
<path d="M52.5,408.6V411 M77.4,408.6V411 M102.3,408.6V411 M127.2,408.6V411 M152.1,408.6V411 M177.0,408.6V411 M201.9,408.6V411 M226.8,408.6V411 M251.7,408.6V411 M276.6,408.6V411 M301.5,408.6V411 M326.4,408.6V411 M351.3,408.6V411 M376.2,408.6V411 M401.1,408.6V411 M426.0,408.6V411 M450.9,408.6V411 M475.8,408.6V411 M500.7,408.6V411 M525.6,408.6V411 M550.5,408.6V411 M575.4,408.6V411 M600.3,408.6V411 M625.2,408.6V411 M650.1,408.6V411 M675.0,408.6V411 M699.9,408.6V411 M724.8,408.6V411 M749.7,408.6V411 M774.6,408.6V411 M799.5,408.6V411 M824.4,408.6V411 M849.3,408.6V411 M874.2,408.6V411 M899.1,408.6V411" stroke="#9aa6dc" stroke-width="0.8"/>
<rect x="44.9" y="411" width="5" height="134" fill="#e6e8f5"/><path d="M44.7,318V545 M49.7,318V545" stroke="#b3bde6" stroke-width="0.9" fill="none"/>
<path d="M41.5,321.0H44.7 M41.5,326.4H44.7 M41.5,331.8H44.7 M41.5,337.2H44.7 M41.5,342.6H44.7 M41.5,348.0H44.7 M41.5,353.4H44.7 M41.5,358.8H44.7 M41.5,364.2H44.7 M41.5,369.6H44.7 M41.5,375.0H44.7 M41.5,380.4H44.7 M41.5,385.8H44.7 M41.5,391.2H44.7 M41.5,396.6H44.7 M41.5,402.0H44.7 M41.5,407.4H44.7 M41.5,412.8H44.7 M41.5,418.2H44.7 M41.5,423.6H44.7 M41.5,429.0H44.7 M41.5,434.4H44.7 M41.5,439.8H44.7 M41.5,445.2H44.7 M41.5,450.6H44.7 M41.5,456.0H44.7" stroke="#adb4de" stroke-width="0.7"/>
<path d="M31.6,250.2H129.1 M25.4,260.8V309 M31,260.8V309" stroke="#b3bde6" stroke-width="1" fill="none"/>
<path d="M980.8,419V546 M983.7,419V546" stroke="#aab4e3" stroke-width="0.9" fill="none"/>
<path d="M983.7,423.0H987.6 M983.7,426.7H987.6 M983.7,430.4H987.6 M983.7,434.1H987.6 M983.7,437.8H987.6 M983.7,441.5H987.6 M983.7,445.2H987.6 M983.7,448.9H987.6 M983.7,452.6H987.6 M983.7,456.3H987.6 M983.7,460.0H987.6 M983.7,463.7H987.6 M983.7,467.4H987.6 M983.7,471.1H987.6 M983.7,474.8H987.6 M983.7,478.5H987.6 M983.7,482.2H987.6 M983.7,485.9H987.6 M983.7,489.6H987.6 M983.7,493.3H987.6 M983.7,497.0H987.6 M983.7,500.7H987.6 M983.7,504.4H987.6 M983.7,508.1H987.6 M983.7,511.8H987.6 M983.7,515.5H987.6 M983.7,519.2H987.6 M983.7,522.9H987.6 M983.7,526.6H987.6 M983.7,530.3H987.6 M983.7,534.0H987.6 M983.7,537.7H987.6 M983.7,541.4H987.6" stroke="#adb4de" stroke-width="0.7"/>
<path d="M19.5,545H984" stroke="#a7b2e2" stroke-width="1" fill="none"/>
<path d="M45,485H19.5V545" stroke="#a7b2e2" stroke-width="1" fill="none"/>
<path d="M132.6,411V440.3H276.5V411" stroke="#a3aee0" stroke-width="1" fill="none"/>
<path d="M132.6,426.4H243.5 M132.6,439.3H243.5 M243.5,426.4V439.3" stroke="#8e9cdc" stroke-width="1.1" fill="none"/>
<path d="M132.6,432.9H243.5" stroke="#b7c0e8" stroke-width="0.7" fill="none"/>
<path d="M134.1,426.4V439.3 M137.9,426.4V439.3 M141.7,426.4V439.3 M145.5,426.4V439.3 M149.3,426.4V439.3 M153.1,426.4V439.3 M156.9,426.4V439.3 M160.7,426.4V439.3 M164.5,426.4V439.3 M168.3,426.4V439.3 M172.1,426.4V439.3 M175.9,426.4V439.3 M179.7,426.4V439.3 M202.5,426.4V439.3 M206.3,426.4V439.3 M210.1,426.4V439.3 M213.9,426.4V439.3 M217.7,426.4V439.3 M221.5,426.4V439.3 M225.3,426.4V439.3 M229.1,426.4V439.3 M232.9,426.4V439.3 M236.7,426.4V439.3 M240.5,426.4V439.3" stroke="#9eaadf" stroke-width="0.7"/>
<text class="vd" x="204.4" y="423.3">VOID</text>
<path d="M776.3,411V440.3H920V411" stroke="#a3aee0" stroke-width="1" fill="none"/>
<path d="M810,426.4H920 M810,439.3H920 M920,426.4V439.3" stroke="#8e9cdc" stroke-width="1.1" fill="none"/>
<path d="M810,432.9H920" stroke="#b7c0e8" stroke-width="0.7" fill="none"/>
<path d="M811.5,426.4V439.3 M815.3,426.4V439.3 M819.1,426.4V439.3 M822.9,426.4V439.3 M826.7,426.4V439.3 M830.5,426.4V439.3 M834.3,426.4V439.3 M838.1,426.4V439.3 M841.9,426.4V439.3 M845.7,426.4V439.3 M849.5,426.4V439.3 M853.3,426.4V439.3 M857.1,426.4V439.3 M860.9,426.4V439.3 M864.7,426.4V439.3 M868.5,426.4V439.3 M887.5,426.4V439.3 M891.3,426.4V439.3 M895.1,426.4V439.3 M898.9,426.4V439.3 M902.7,426.4V439.3 M906.5,426.4V439.3 M910.3,426.4V439.3 M914.1,426.4V439.3 M917.9,426.4V439.3" stroke="#9eaadf" stroke-width="0.7"/>
<text class="vd" x="848" y="423.3">VOID</text>
<path d="M471.3,411V443H510V411 M540,411V443H578.8V411" stroke="#a3aee0" stroke-width="1" fill="none"/>
<text class="vd" x="490.6" y="431.3">VOID</text>
<text class="vd" x="559.4" y="431.3">VOID</text>
<path d="M510.8,423.5A13.5,12 0 0 0 524.3,411.4 M539.4,423.5A13.5,12 0 0 1 525.9,411.4" stroke="#a3aee0" stroke-width="0.8" fill="none"/><path d="M510.2,411V423.5 M539.8,411V423.5" stroke="#98a3d9" stroke-width="1.4"/>
<path d="M984.9,431.7H1004.1V515.9H984.9" stroke="#8e9cdc" stroke-width="1" fill="none"/>
<path d="M988,434.0H1003 M988,437.6H1003 M988,441.2H1003 M988,444.8H1003 M988,448.4H1003 M988,452.0H1003 M988,455.6H1003 M988,459.2H1003 M988,462.8H1003 M988,466.4H1003 M988,470.0H1003 M988,473.6H1003 M988,477.2H1003 M988,480.8H1003 M988,484.4H1003 M988,488.0H1003 M988,491.6H1003 M988,432V497 M996,432V497" stroke="#8e9cdc" stroke-width="0.7" fill="none"/>
</g>

<!-- ===== LABELS ===== -->
<g id="labels">
<path class="dm" d="M525.0,199.5L533.0,207.5L525.0,215.5L517.0,207.5Z"/><text class="dt" x="525" y="210.75">1</text>
<path class="dm" d="M95.5,353.5L103.5,361.5L95.5,369.5L87.5,361.5Z"/><text class="dt" x="95.5" y="364.75">2</text>
<path class="dm" d="M249.2,353.7L257.2,361.7L249.2,369.7L241.2,361.7Z"/><text class="dt" x="249.2" y="364.95">3</text>
<path class="dm" d="M526.5,370.0L534.5,378.0L526.5,386.0L518.5,378.0Z"/><text class="dt" x="526.5" y="381.25">4</text>
<path class="dm" d="M946.5,336.5L954.5,344.5L946.5,352.5L938.5,344.5Z"/><text class="dt" x="946.5" y="347.75">5</text>
<path class="dm" d="M525.5,515.8L533.5,523.8L525.5,531.8L517.5,523.8Z"/><text class="dt" x="525.5" y="527.05">6</text>
<text class="lg" x="216.6" y="633.5">1.</text><text class="lg" x="227.9" y="633.5">Indoor Pool</text>
<text class="lg" x="216.6" y="642.4">2.</text><text class="lg" x="227.9" y="642.4">Crèche</text>
<text class="lg" x="216.6" y="650.9">3.</text><text class="lg" x="227.9" y="650.9">Gym / Training Area</text>
<text class="lg" x="216.6" y="659.8">4.</text><text class="lg" x="227.9" y="659.8">Residents' Lounge / Bar</text>
<text class="lg" x="216.6" y="668.8">5.</text><text class="lg" x="227.9" y="668.8">Thermal Rooms &amp; Thermal Spa Area</text>
<text class="lg" x="216.6" y="677.7">6.</text><text class="lg" x="227.9" y="677.7">Private Oasis</text>
</g>
</svg>
</body></html>
